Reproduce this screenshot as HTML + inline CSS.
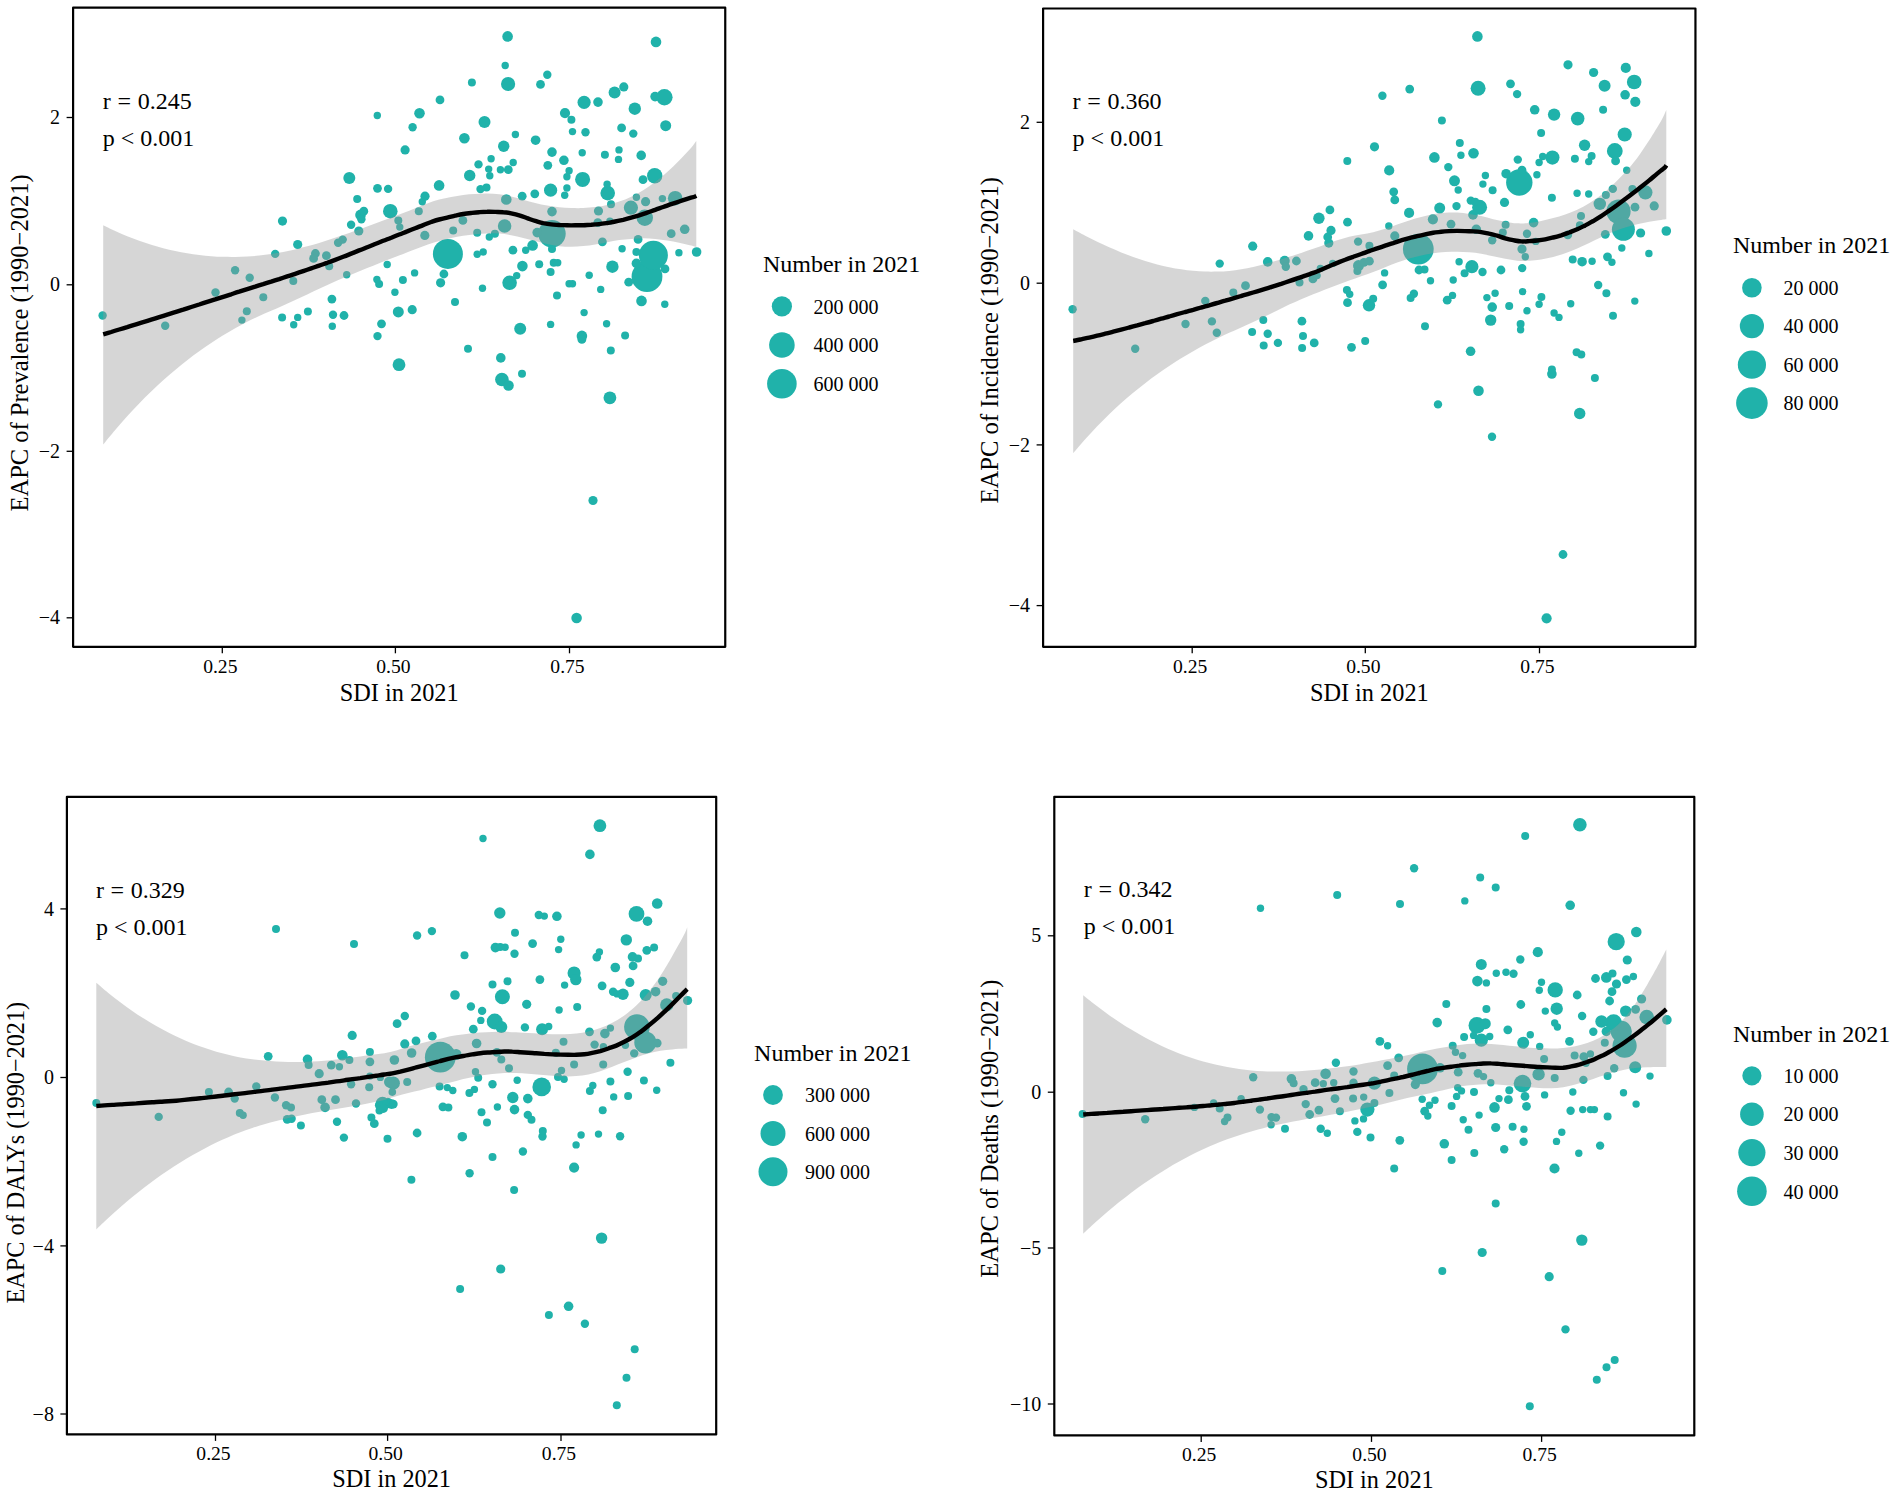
<!DOCTYPE html>
<html><head><meta charset="utf-8"><title>EAPC vs SDI</title>
<style>html,body{margin:0;padding:0;background:#fff}svg{display:block}text{font-family:'Liberation Serif',serif;fill:#000}</style>
</head><body>
<svg width="1901" height="1497" viewBox="0 0 1901 1497">
<rect width="1901" height="1497" fill="#fff"/>
<g fill="#20b2aa">
<circle cx="647.0" cy="276.7" r="15.4"/>
<circle cx="447.9" cy="253.9" r="15.0"/>
<circle cx="653.4" cy="255.3" r="14.5"/>
<circle cx="552.0" cy="233.7" r="13.7"/>
<circle cx="664.4" cy="97.2" r="8.2"/>
<circle cx="644.8" cy="217.8" r="8.2"/>
<circle cx="654.7" cy="175.7" r="7.7"/>
<circle cx="582.6" cy="179.4" r="7.5"/>
<circle cx="390.3" cy="211.2" r="7.3"/>
<circle cx="607.7" cy="193.1" r="7.3"/>
<circle cx="675.2" cy="198.2" r="7.3"/>
<circle cx="509.6" cy="282.8" r="7.3"/>
<circle cx="508.1" cy="84.0" r="7.1"/>
<circle cx="630.9" cy="207.7" r="7.1"/>
<circle cx="504.6" cy="226.0" r="6.8"/>
<circle cx="501.9" cy="379.5" r="6.8"/>
<circle cx="584.1" cy="102.3" r="6.6"/>
<circle cx="550.6" cy="190.2" r="6.6"/>
<circle cx="399.0" cy="364.7" r="6.4"/>
<circle cx="609.9" cy="397.8" r="6.4"/>
<circle cx="634.8" cy="108.7" r="6.2"/>
<circle cx="612.4" cy="266.7" r="6.2"/>
<circle cx="349.3" cy="178.1" r="6.0"/>
<circle cx="614.6" cy="92.6" r="6.0"/>
<circle cx="484.5" cy="121.9" r="6.0"/>
<circle cx="520.2" cy="328.8" r="6.0"/>
<circle cx="503.7" cy="146.2" r="5.7"/>
<circle cx="469.7" cy="175.5" r="5.7"/>
<circle cx="665.7" cy="125.7" r="5.5"/>
<circle cx="398.3" cy="311.9" r="5.5"/>
<circle cx="360.5" cy="214.9" r="5.3"/>
<circle cx="507.6" cy="36.4" r="5.3"/>
<circle cx="656.0" cy="41.9" r="5.3"/>
<circle cx="419.5" cy="113.3" r="5.3"/>
<circle cx="464.4" cy="138.2" r="5.3"/>
<circle cx="439.1" cy="185.4" r="5.3"/>
<circle cx="506.3" cy="199.5" r="5.3"/>
<circle cx="532.6" cy="245.4" r="5.3"/>
<circle cx="522.4" cy="266.1" r="5.3"/>
<circle cx="641.5" cy="300.9" r="5.3"/>
<circle cx="581.9" cy="335.9" r="5.3"/>
<circle cx="508.5" cy="385.5" r="5.3"/>
<circle cx="576.6" cy="618.0" r="5.3"/>
<circle cx="565.0" cy="113.1" r="5.1"/>
<circle cx="655.1" cy="96.6" r="4.8"/>
<circle cx="598.0" cy="102.1" r="4.8"/>
<circle cx="535.6" cy="140.2" r="4.8"/>
<circle cx="552.0" cy="152.1" r="4.8"/>
<circle cx="641.2" cy="155.4" r="4.8"/>
<circle cx="563.9" cy="160.3" r="4.8"/>
<circle cx="552.0" cy="211.6" r="4.8"/>
<circle cx="537.2" cy="232.6" r="4.8"/>
<circle cx="684.7" cy="229.3" r="4.8"/>
<circle cx="696.6" cy="252.0" r="4.8"/>
<circle cx="636.4" cy="263.4" r="4.8"/>
<circle cx="500.8" cy="357.9" r="4.8"/>
<circle cx="282.5" cy="221.1" r="4.6"/>
<circle cx="297.7" cy="244.5" r="4.6"/>
<circle cx="358.8" cy="231.0" r="4.6"/>
<circle cx="623.8" cy="86.9" r="4.6"/>
<circle cx="405.1" cy="149.9" r="4.6"/>
<circle cx="425.0" cy="196.2" r="4.6"/>
<circle cx="645.6" cy="201.7" r="4.6"/>
<circle cx="598.5" cy="211.0" r="4.6"/>
<circle cx="424.8" cy="235.4" r="4.6"/>
<circle cx="440.6" cy="282.8" r="4.6"/>
<circle cx="412.2" cy="309.7" r="4.6"/>
<circle cx="593.0" cy="500.5" r="4.6"/>
<circle cx="315.4" cy="253.5" r="4.4"/>
<circle cx="313.6" cy="258.4" r="4.4"/>
<circle cx="326.4" cy="255.7" r="4.4"/>
<circle cx="331.9" cy="299.1" r="4.4"/>
<circle cx="344.0" cy="315.5" r="4.4"/>
<circle cx="363.8" cy="211.2" r="4.4"/>
<circle cx="377.5" cy="188.3" r="4.4"/>
<circle cx="381.5" cy="323.8" r="4.4"/>
<circle cx="540.5" cy="84.4" r="4.4"/>
<circle cx="440.0" cy="99.9" r="4.4"/>
<circle cx="621.6" cy="127.9" r="4.4"/>
<circle cx="547.8" cy="165.3" r="4.4"/>
<circle cx="508.3" cy="169.7" r="4.4"/>
<circle cx="643.0" cy="179.7" r="4.4"/>
<circle cx="534.8" cy="193.8" r="4.4"/>
<circle cx="522.2" cy="196.2" r="4.4"/>
<circle cx="597.8" cy="222.6" r="4.4"/>
<circle cx="462.9" cy="220.4" r="4.4"/>
<circle cx="671.2" cy="233.7" r="4.4"/>
<circle cx="638.1" cy="239.4" r="4.4"/>
<circle cx="602.4" cy="241.8" r="4.4"/>
<circle cx="512.9" cy="250.2" r="4.4"/>
<circle cx="665.0" cy="268.9" r="4.4"/>
<circle cx="628.7" cy="282.2" r="4.4"/>
<circle cx="443.9" cy="274.0" r="4.4"/>
<circle cx="581.9" cy="339.4" r="4.4"/>
<circle cx="102.6" cy="315.5" r="4.2"/>
<circle cx="165.2" cy="325.8" r="4.2"/>
<circle cx="215.5" cy="292.5" r="4.2"/>
<circle cx="235.1" cy="270.3" r="4.2"/>
<circle cx="249.7" cy="277.8" r="4.2"/>
<circle cx="275.2" cy="253.9" r="4.2"/>
<circle cx="333.0" cy="314.8" r="4.2"/>
<circle cx="338.1" cy="242.7" r="4.2"/>
<circle cx="342.7" cy="239.6" r="4.2"/>
<circle cx="351.1" cy="224.8" r="4.2"/>
<circle cx="361.4" cy="219.3" r="4.2"/>
<circle cx="388.1" cy="188.9" r="4.2"/>
<circle cx="547.3" cy="74.7" r="4.2"/>
<circle cx="412.6" cy="127.2" r="4.2"/>
<circle cx="633.3" cy="133.6" r="4.2"/>
<circle cx="585.5" cy="132.3" r="4.2"/>
<circle cx="478.5" cy="164.4" r="4.2"/>
<circle cx="480.5" cy="189.1" r="4.2"/>
<circle cx="377.5" cy="336.1" r="4.2"/>
<circle cx="263.3" cy="297.2" r="4.0"/>
<circle cx="246.8" cy="311.3" r="4.0"/>
<circle cx="293.3" cy="281.1" r="4.0"/>
<circle cx="282.1" cy="317.4" r="4.0"/>
<circle cx="307.9" cy="311.5" r="4.0"/>
<circle cx="329.2" cy="266.3" r="4.0"/>
<circle cx="357.2" cy="199.1" r="4.0"/>
<circle cx="379.1" cy="284.1" r="4.0"/>
<circle cx="471.9" cy="82.4" r="4.0"/>
<circle cx="571.4" cy="119.7" r="4.0"/>
<circle cx="604.9" cy="154.7" r="4.0"/>
<circle cx="486.5" cy="187.6" r="4.0"/>
<circle cx="611.0" cy="204.3" r="4.0"/>
<circle cx="418.8" cy="211.2" r="4.0"/>
<circle cx="398.3" cy="220.4" r="4.0"/>
<circle cx="453.2" cy="230.4" r="4.0"/>
<circle cx="477.2" cy="232.8" r="4.0"/>
<circle cx="494.9" cy="233.7" r="4.0"/>
<circle cx="552.0" cy="249.1" r="4.0"/>
<circle cx="636.4" cy="252.0" r="4.0"/>
<circle cx="539.2" cy="264.3" r="4.0"/>
<circle cx="553.7" cy="262.8" r="4.0"/>
<circle cx="550.6" cy="272.0" r="4.0"/>
<circle cx="402.9" cy="280.0" r="4.0"/>
<circle cx="557.0" cy="295.4" r="4.0"/>
<circle cx="455.0" cy="302.0" r="4.0"/>
<circle cx="625.1" cy="335.4" r="4.0"/>
<circle cx="468.0" cy="348.7" r="4.0"/>
<circle cx="610.8" cy="350.4" r="4.0"/>
<circle cx="522.0" cy="373.8" r="4.0"/>
<circle cx="241.9" cy="320.1" r="3.7"/>
<circle cx="297.7" cy="317.4" r="3.7"/>
<circle cx="332.3" cy="326.3" r="3.7"/>
<circle cx="346.7" cy="274.7" r="3.7"/>
<circle cx="377.3" cy="115.5" r="3.7"/>
<circle cx="387.2" cy="264.5" r="3.7"/>
<circle cx="394.9" cy="292.3" r="3.7"/>
<circle cx="505.2" cy="65.5" r="3.7"/>
<circle cx="572.5" cy="131.6" r="3.7"/>
<circle cx="515.4" cy="134.5" r="3.7"/>
<circle cx="582.2" cy="152.8" r="3.7"/>
<circle cx="619.0" cy="149.9" r="3.7"/>
<circle cx="489.8" cy="175.7" r="3.7"/>
<circle cx="636.4" cy="197.3" r="3.7"/>
<circle cx="662.4" cy="198.6" r="3.7"/>
<circle cx="489.3" cy="237.0" r="3.7"/>
<circle cx="622.1" cy="248.7" r="3.7"/>
<circle cx="678.9" cy="252.8" r="3.7"/>
<circle cx="414.6" cy="272.9" r="3.7"/>
<circle cx="516.7" cy="275.6" r="3.7"/>
<circle cx="569.1" cy="283.7" r="3.7"/>
<circle cx="572.5" cy="283.7" r="3.7"/>
<circle cx="482.5" cy="288.3" r="3.7"/>
<circle cx="600.7" cy="289.4" r="3.7"/>
<circle cx="664.8" cy="304.2" r="3.7"/>
<circle cx="584.1" cy="312.6" r="3.7"/>
<circle cx="550.6" cy="324.4" r="3.7"/>
<circle cx="606.6" cy="323.7" r="3.7"/>
<circle cx="293.7" cy="324.7" r="3.7"/>
<circle cx="376.9" cy="279.5" r="3.7"/>
<circle cx="618.5" cy="159.4" r="3.7"/>
<circle cx="491.1" cy="158.7" r="3.7"/>
<circle cx="513.2" cy="162.5" r="3.7"/>
<circle cx="488.7" cy="169.1" r="3.7"/>
<circle cx="500.4" cy="169.7" r="3.7"/>
<circle cx="569.1" cy="170.8" r="3.7"/>
<circle cx="566.9" cy="176.8" r="3.7"/>
<circle cx="607.1" cy="184.3" r="3.7"/>
<circle cx="566.9" cy="188.0" r="3.7"/>
<circle cx="564.7" cy="195.3" r="3.7"/>
<circle cx="422.3" cy="201.7" r="3.7"/>
<circle cx="399.8" cy="227.1" r="3.7"/>
<circle cx="609.9" cy="221.1" r="3.7"/>
<circle cx="525.7" cy="250.2" r="3.7"/>
<circle cx="483.2" cy="252.0" r="3.7"/>
<circle cx="477.2" cy="254.2" r="3.7"/>
<circle cx="557.7" cy="262.8" r="3.7"/>
<circle cx="589.2" cy="275.3" r="3.7"/>
</g>
<path d="M103.2 225.2C105.2 226.2 111.2 229.2 115.2 231.0C119.2 232.8 123.2 234.6 127.2 236.2C131.2 237.8 135.2 239.3 139.2 240.8C143.2 242.2 147.2 243.5 151.2 244.8C155.2 246.0 159.2 247.1 163.2 248.2C167.2 249.2 171.2 250.2 175.2 251.0C179.2 251.9 183.2 252.6 187.2 253.3C191.2 254.0 195.2 254.6 199.2 255.0C203.2 255.5 207.2 255.9 211.2 256.2C215.2 256.5 219.2 256.7 223.2 256.8C227.2 256.9 231.2 257.0 235.2 256.9C239.2 256.9 243.2 256.7 247.2 256.5C251.2 256.3 255.2 256.0 259.2 255.6C263.2 255.2 267.2 254.7 271.2 254.1C275.2 253.4 279.2 252.7 283.2 252.0C287.2 251.2 291.2 250.3 295.2 249.4C299.2 248.4 303.2 247.3 307.2 246.3C311.2 245.2 315.2 244.1 319.2 242.9C323.2 241.7 327.2 240.4 331.2 239.0C335.2 237.7 339.2 236.4 343.2 235.0C347.2 233.6 351.2 232.2 355.2 230.7C359.2 229.3 363.2 227.8 367.2 226.4C371.2 224.9 375.2 223.4 379.2 222.0C383.2 220.5 387.2 219.0 391.2 217.6C395.2 216.1 399.2 214.6 403.2 213.0C407.2 211.5 411.2 209.8 415.2 208.2C419.2 206.6 423.2 204.9 427.2 203.4C431.2 202.0 435.2 200.6 439.2 199.5C443.2 198.4 447.2 197.7 451.2 196.9C455.2 196.1 459.2 195.4 463.2 194.9C467.2 194.4 471.2 194.2 475.2 194.0C479.2 193.8 483.2 193.5 487.2 193.6C491.2 193.6 495.2 193.9 499.2 194.3C503.2 194.8 507.2 195.5 511.2 196.4C515.2 197.3 519.2 198.6 523.2 199.7C527.2 200.8 531.2 201.9 535.2 202.9C539.2 203.9 543.2 204.8 547.2 205.5C551.2 206.3 555.2 206.8 559.2 207.3C563.2 207.7 567.2 208.0 571.2 208.1C575.2 208.2 579.2 208.3 583.2 208.1C587.2 207.9 591.2 207.6 595.2 207.1C599.2 206.5 603.2 205.9 607.2 205.0C611.2 204.1 615.2 203.0 619.2 201.6C623.2 200.3 627.2 198.6 631.2 196.7C635.2 194.8 639.2 192.6 643.2 190.2C647.2 187.8 651.2 185.1 655.2 182.1C659.2 179.1 663.2 175.7 667.2 172.0C671.2 168.4 675.2 164.4 679.2 160.4C683.2 156.3 688.3 150.9 691.2 147.7C694.0 144.5 695.4 142.2 696.3 141.1L696.3 247.1C695.4 246.9 694.0 246.3 691.2 245.6C688.3 244.9 683.2 243.6 679.2 242.8C675.2 241.9 671.2 241.2 667.2 240.6C663.2 239.9 659.2 239.3 655.2 239.0C651.2 238.6 647.2 238.3 643.2 238.3C639.2 238.3 635.2 238.7 631.2 239.0C627.2 239.3 623.2 239.6 619.2 240.1C615.2 240.7 611.2 241.5 607.2 242.2C603.2 243.0 599.2 243.9 595.2 244.5C591.2 245.2 587.2 245.7 583.2 246.1C579.2 246.5 575.2 246.8 571.2 246.8C567.2 246.8 563.2 246.6 559.2 246.2C555.2 245.8 551.2 245.0 547.2 244.1C543.2 243.3 539.2 242.1 535.2 241.1C531.2 240.0 527.2 238.8 523.2 237.9C519.2 236.9 515.2 236.0 511.2 235.2C507.2 234.5 503.2 233.9 499.2 233.6C495.2 233.3 491.2 233.3 487.2 233.4C483.2 233.4 479.2 233.8 475.2 234.2C471.2 234.6 467.2 235.1 463.2 235.7C459.2 236.3 455.2 237.0 451.2 237.9C447.2 238.8 443.2 240.0 439.2 241.1C435.2 242.3 431.2 243.4 427.2 244.8C423.2 246.1 419.2 247.7 415.2 249.2C411.2 250.7 407.2 252.3 403.2 253.9C399.2 255.4 395.2 257.0 391.2 258.6C387.2 260.1 383.2 261.7 379.2 263.3C375.2 264.9 371.2 266.5 367.2 268.1C363.2 269.7 359.2 271.3 355.2 273.0C351.2 274.6 347.2 276.4 343.2 278.1C339.2 279.8 335.2 281.6 331.2 283.3C327.2 285.1 323.2 287.0 319.2 288.8C315.2 290.7 311.2 292.5 307.2 294.4C303.2 296.3 299.2 298.1 295.2 300.0C291.2 301.9 287.2 303.8 283.2 305.6C279.2 307.4 275.2 309.1 271.2 310.8C267.2 312.5 263.2 314.2 259.2 316.0C255.2 317.9 251.2 319.7 247.2 321.8C243.2 323.8 239.2 326.0 235.2 328.2C231.2 330.5 227.2 332.8 223.2 335.3C219.2 337.8 215.2 340.3 211.2 343.0C207.2 345.6 203.2 348.4 199.2 351.3C195.2 354.1 191.2 357.1 187.2 360.2C183.2 363.3 179.2 366.6 175.2 369.9C171.2 373.3 167.2 376.7 163.2 380.3C159.2 383.9 155.2 387.6 151.2 391.5C147.2 395.3 143.2 399.3 139.2 403.4C135.2 407.6 131.2 411.8 127.2 416.2C123.2 420.6 119.2 425.2 115.2 429.9C111.2 434.6 105.2 442.0 103.2 444.4Z" fill="#999999" fill-opacity="0.4"/>
<path d="M103.2 334.4C104.5 334.0 108.5 332.8 111.2 332.0C113.9 331.1 116.5 330.3 119.2 329.5C121.9 328.7 124.5 327.9 127.2 327.1C129.9 326.2 132.5 325.4 135.2 324.6C137.9 323.8 140.5 322.9 143.2 322.1C145.9 321.3 148.5 320.5 151.2 319.6C153.9 318.8 156.5 318.0 159.2 317.1C161.9 316.3 164.5 315.5 167.2 314.6C169.9 313.8 172.5 312.9 175.2 312.1C177.9 311.3 180.5 310.4 183.2 309.6C185.9 308.7 188.5 307.9 191.2 307.0C193.9 306.2 196.5 305.3 199.2 304.5C201.9 303.6 204.5 302.8 207.2 301.9C209.9 301.1 212.5 300.2 215.2 299.4C217.9 298.5 220.5 297.7 223.2 296.8C225.9 296.0 228.5 295.1 231.2 294.3C233.9 293.4 236.5 292.5 239.2 291.7C241.9 290.8 244.5 290.0 247.2 289.1C249.9 288.3 252.5 287.4 255.2 286.6C257.9 285.7 260.5 284.9 263.2 284.1C265.9 283.2 268.5 282.4 271.2 281.6C273.9 280.7 276.5 279.9 279.2 279.1C281.9 278.2 284.5 277.3 287.2 276.4C289.9 275.6 292.5 274.7 295.2 273.8C297.9 272.9 300.5 272.0 303.2 271.1C305.9 270.2 308.5 269.3 311.2 268.4C313.9 267.5 316.5 266.5 319.2 265.6C321.9 264.7 324.5 263.7 327.2 262.8C329.9 261.8 332.5 260.9 335.2 259.9C337.9 258.9 340.5 257.9 343.2 256.8C345.9 255.8 348.5 254.7 351.2 253.6C353.9 252.6 356.5 251.5 359.2 250.4C361.9 249.4 364.5 248.3 367.2 247.2C369.9 246.2 372.5 245.1 375.2 244.0C377.9 243.0 380.5 241.9 383.2 240.8C385.9 239.8 388.5 238.7 391.2 237.7C393.9 236.6 396.5 235.5 399.2 234.5C401.9 233.5 404.5 232.4 407.2 231.4C409.9 230.3 412.5 229.3 415.2 228.2C417.9 227.2 420.5 226.1 423.2 225.1C425.9 224.1 428.5 222.9 431.2 222.0C433.9 221.1 436.5 220.2 439.2 219.5C441.9 218.8 444.5 218.2 447.2 217.6C449.9 217.0 452.5 216.3 455.2 215.7C457.9 215.1 460.5 214.5 463.2 214.0C465.9 213.6 468.5 213.3 471.2 213.0C473.9 212.7 476.5 212.4 479.2 212.2C481.9 212.0 484.5 211.8 487.2 211.8C489.9 211.7 492.5 211.8 495.2 211.9C497.9 212.0 500.5 211.9 503.2 212.2C505.9 212.4 508.5 212.8 511.2 213.3C513.9 213.9 516.5 214.5 519.2 215.3C521.9 216.1 524.5 217.2 527.2 218.2C529.9 219.1 532.5 220.1 535.2 220.9C537.9 221.7 540.5 222.6 543.2 223.2C545.9 223.7 548.5 224.1 551.2 224.4C553.9 224.7 556.5 224.8 559.2 225.0C561.9 225.1 564.5 225.2 567.2 225.3C569.9 225.4 572.5 225.4 575.2 225.3C577.9 225.3 580.5 225.3 583.2 225.2C585.9 225.1 588.5 224.9 591.2 224.8C593.9 224.6 596.5 224.4 599.2 224.1C601.9 223.8 604.5 223.4 607.2 223.0C609.9 222.5 612.5 222.1 615.2 221.5C617.9 221.0 620.5 220.4 623.2 219.8C625.9 219.1 628.5 218.4 631.2 217.6C633.9 216.9 636.5 216.2 639.2 215.3C641.9 214.5 644.5 213.5 647.2 212.6C649.9 211.7 652.5 210.7 655.2 209.8C657.9 208.9 660.5 207.9 663.2 207.0C665.9 206.1 668.5 205.1 671.2 204.2C673.9 203.3 676.5 202.4 679.2 201.5C681.9 200.6 684.5 199.7 687.2 198.8C689.9 198.0 693.7 197.0 695.2 196.5C696.7 196.0 696.1 195.9 696.3 195.8" fill="none" stroke="#000" stroke-width="4.4" stroke-linejoin="round"/>
<rect x="73.10" y="7.70" width="652.15" height="639.10" fill="none" stroke="#000" stroke-width="2.2" stroke-linejoin="round"/>
<line x1="222.3" y1="646.8" x2="222.3" y2="653.3" stroke="#000" stroke-width="1.3"/>
<text x="220.3" y="672.8" font-size="19.6" text-anchor="middle">0.25</text>
<line x1="395.4" y1="646.8" x2="395.4" y2="653.3" stroke="#000" stroke-width="1.3"/>
<text x="393.4" y="672.8" font-size="19.6" text-anchor="middle">0.50</text>
<line x1="569.5" y1="646.8" x2="569.5" y2="653.3" stroke="#000" stroke-width="1.3"/>
<text x="567.5" y="672.8" font-size="19.6" text-anchor="middle">0.75</text>
<line x1="66.6" y1="117.5" x2="73.1" y2="117.5" stroke="#000" stroke-width="1.3"/>
<text x="60.1" y="124.1" font-size="20" text-anchor="end">2</text>
<line x1="66.6" y1="284.8" x2="73.1" y2="284.8" stroke="#000" stroke-width="1.3"/>
<text x="60.1" y="291.4" font-size="20" text-anchor="end">0</text>
<line x1="66.6" y1="451.3" x2="73.1" y2="451.3" stroke="#000" stroke-width="1.3"/>
<text x="60.1" y="457.9" font-size="20" text-anchor="end">−2</text>
<line x1="66.6" y1="617.8" x2="73.1" y2="617.8" stroke="#000" stroke-width="1.3"/>
<text x="60.1" y="624.4" font-size="20" text-anchor="end">−4</text>
<text x="399.2" y="700.8" font-size="24.3" text-anchor="middle">SDI in 2021</text>
<text transform="translate(27.7 511.5) rotate(-90)" font-size="24.4" textLength="337.1" lengthAdjust="spacingAndGlyphs">EAPC of Prevalence (1990−2021)</text>
<text x="102.8" y="108.8" font-size="24" word-spacing="0.7">r = 0.245</text>
<text x="102.8" y="145.8" font-size="24">p &lt; 0.001</text>
<text x="762.9" y="272.3" font-size="24">Number in 2021</text>
<circle cx="781.9" cy="306.3" r="10.1" fill="#20b2aa"/>
<text x="813.4" y="313.5" font-size="20">200 000</text>
<circle cx="781.9" cy="345.0" r="12.8" fill="#20b2aa"/>
<text x="813.4" y="352.2" font-size="20">400 000</text>
<circle cx="781.9" cy="383.7" r="14.8" fill="#20b2aa"/>
<text x="813.4" y="390.9" font-size="20">600 000</text>
<g fill="#20b2aa">
<circle cx="1418.3" cy="249.1" r="15.4"/>
<circle cx="1519.3" cy="182.5" r="13.2"/>
<circle cx="1618.5" cy="211.6" r="12.1"/>
<circle cx="1623.4" cy="229.3" r="11.5"/>
<circle cx="1614.8" cy="151.0" r="7.9"/>
<circle cx="1478.1" cy="88.2" r="7.5"/>
<circle cx="1479.6" cy="207.2" r="7.5"/>
<circle cx="1634.2" cy="82.0" r="7.3"/>
<circle cx="1624.7" cy="134.5" r="7.1"/>
<circle cx="1552.4" cy="157.6" r="7.1"/>
<circle cx="1645.4" cy="192.4" r="7.1"/>
<circle cx="1577.7" cy="118.6" r="6.8"/>
<circle cx="1471.9" cy="266.7" r="6.6"/>
<circle cx="1554.1" cy="114.6" r="6.2"/>
<circle cx="1599.8" cy="203.9" r="6.2"/>
<circle cx="1369.0" cy="305.3" r="6.2"/>
<circle cx="1604.6" cy="85.8" r="6.0"/>
<circle cx="1318.9" cy="218.2" r="5.7"/>
<circle cx="1584.6" cy="145.3" r="5.7"/>
<circle cx="1490.7" cy="320.1" r="5.7"/>
<circle cx="1579.7" cy="413.5" r="5.7"/>
<circle cx="1358.5" cy="265.6" r="5.5"/>
<circle cx="1454.5" cy="180.8" r="5.5"/>
<circle cx="1439.7" cy="208.1" r="5.5"/>
<circle cx="1477.4" cy="36.4" r="5.3"/>
<circle cx="1473.5" cy="153.2" r="5.3"/>
<circle cx="1434.4" cy="157.4" r="5.3"/>
<circle cx="1478.5" cy="390.8" r="5.3"/>
<circle cx="1284.7" cy="260.8" r="5.1"/>
<circle cx="1625.8" cy="67.9" r="5.1"/>
<circle cx="1635.3" cy="101.8" r="5.1"/>
<circle cx="1389.2" cy="170.4" r="5.1"/>
<circle cx="1409.1" cy="212.9" r="5.1"/>
<circle cx="1432.9" cy="219.3" r="5.1"/>
<circle cx="1546.6" cy="618.3" r="5.1"/>
<circle cx="1267.7" cy="261.9" r="4.8"/>
<circle cx="1308.5" cy="235.9" r="4.8"/>
<circle cx="1625.1" cy="94.8" r="4.8"/>
<circle cx="1534.7" cy="109.8" r="4.8"/>
<circle cx="1506.1" cy="173.7" r="4.8"/>
<circle cx="1473.0" cy="214.9" r="4.8"/>
<circle cx="1533.6" cy="222.6" r="4.8"/>
<circle cx="1476.3" cy="229.3" r="4.8"/>
<circle cx="1666.3" cy="231.0" r="4.8"/>
<circle cx="1582.1" cy="261.7" r="4.8"/>
<circle cx="1492.2" cy="307.1" r="4.8"/>
<circle cx="1470.6" cy="351.3" r="4.8"/>
<circle cx="1551.9" cy="374.0" r="4.8"/>
<circle cx="1252.7" cy="246.2" r="4.6"/>
<circle cx="1331.0" cy="230.4" r="4.6"/>
<circle cx="1328.8" cy="243.1" r="4.6"/>
<circle cx="1568.0" cy="64.8" r="4.6"/>
<circle cx="1593.6" cy="72.5" r="4.6"/>
<circle cx="1374.5" cy="146.8" r="4.6"/>
<circle cx="1504.5" cy="202.4" r="4.6"/>
<circle cx="1654.2" cy="205.9" r="4.6"/>
<circle cx="1394.8" cy="235.9" r="4.6"/>
<circle cx="1640.6" cy="233.0" r="4.6"/>
<circle cx="1522.0" cy="249.1" r="4.6"/>
<circle cx="1245.5" cy="285.7" r="4.4"/>
<circle cx="1296.4" cy="261.0" r="4.4"/>
<circle cx="1301.9" cy="321.2" r="4.4"/>
<circle cx="1312.9" cy="278.9" r="4.4"/>
<circle cx="1329.9" cy="209.9" r="4.4"/>
<circle cx="1327.7" cy="237.0" r="4.4"/>
<circle cx="1347.5" cy="222.2" r="4.4"/>
<circle cx="1364.0" cy="262.3" r="4.4"/>
<circle cx="1347.5" cy="302.7" r="4.4"/>
<circle cx="1409.7" cy="89.1" r="4.4"/>
<circle cx="1510.5" cy="83.8" r="4.4"/>
<circle cx="1615.6" cy="160.9" r="4.4"/>
<circle cx="1522.0" cy="170.2" r="4.4"/>
<circle cx="1393.7" cy="191.8" r="4.4"/>
<circle cx="1394.8" cy="199.9" r="4.4"/>
<circle cx="1635.0" cy="207.2" r="4.4"/>
<circle cx="1451.0" cy="224.2" r="4.4"/>
<circle cx="1567.8" cy="234.8" r="4.4"/>
<circle cx="1605.3" cy="234.3" r="4.4"/>
<circle cx="1369.4" cy="261.2" r="4.4"/>
<circle cx="1607.5" cy="256.8" r="4.4"/>
<circle cx="1501.0" cy="270.0" r="4.4"/>
<circle cx="1419.0" cy="270.0" r="4.4"/>
<circle cx="1382.6" cy="284.8" r="4.4"/>
<circle cx="1447.2" cy="300.2" r="4.4"/>
<circle cx="1314.2" cy="342.9" r="4.4"/>
<circle cx="1351.5" cy="347.3" r="4.4"/>
<circle cx="1563.0" cy="554.5" r="4.4"/>
<circle cx="1072.6" cy="309.3" r="4.2"/>
<circle cx="1185.5" cy="324.0" r="4.2"/>
<circle cx="1205.3" cy="300.9" r="4.2"/>
<circle cx="1211.9" cy="321.4" r="4.2"/>
<circle cx="1219.7" cy="263.6" r="4.2"/>
<circle cx="1285.8" cy="266.7" r="4.2"/>
<circle cx="1358.1" cy="241.6" r="4.2"/>
<circle cx="1517.1" cy="94.1" r="4.2"/>
<circle cx="1382.4" cy="95.7" r="4.2"/>
<circle cx="1517.8" cy="159.6" r="4.2"/>
<circle cx="1448.3" cy="167.1" r="4.2"/>
<circle cx="1612.8" cy="188.9" r="4.2"/>
<circle cx="1470.8" cy="200.6" r="4.2"/>
<circle cx="1456.5" cy="206.1" r="4.2"/>
<circle cx="1527.0" cy="233.7" r="4.2"/>
<circle cx="1492.2" cy="240.3" r="4.2"/>
<circle cx="1482.5" cy="272.0" r="4.2"/>
<circle cx="1522.2" cy="268.1" r="4.2"/>
<circle cx="1598.2" cy="285.0" r="4.2"/>
<circle cx="1413.9" cy="293.8" r="4.2"/>
<circle cx="1216.8" cy="332.8" r="4.2"/>
<circle cx="1135.2" cy="348.7" r="4.2"/>
<circle cx="1267.7" cy="333.7" r="4.2"/>
<circle cx="1277.9" cy="342.9" r="4.2"/>
<circle cx="1438.0" cy="404.4" r="4.2"/>
<circle cx="1492.0" cy="436.8" r="4.2"/>
<circle cx="1233.3" cy="292.5" r="4.0"/>
<circle cx="1263.3" cy="320.1" r="4.0"/>
<circle cx="1299.5" cy="282.6" r="4.0"/>
<circle cx="1347.3" cy="160.9" r="4.0"/>
<circle cx="1357.4" cy="271.1" r="4.0"/>
<circle cx="1346.9" cy="289.9" r="4.0"/>
<circle cx="1603.1" cy="109.8" r="4.0"/>
<circle cx="1441.9" cy="120.4" r="4.0"/>
<circle cx="1541.1" cy="133.1" r="4.0"/>
<circle cx="1459.8" cy="143.1" r="4.0"/>
<circle cx="1574.9" cy="158.7" r="4.0"/>
<circle cx="1591.6" cy="155.9" r="4.0"/>
<circle cx="1492.6" cy="190.2" r="4.0"/>
<circle cx="1551.9" cy="197.7" r="4.0"/>
<circle cx="1632.4" cy="189.1" r="4.0"/>
<circle cx="1605.9" cy="195.1" r="4.0"/>
<circle cx="1475.2" cy="201.7" r="4.0"/>
<circle cx="1581.0" cy="216.0" r="4.0"/>
<circle cx="1505.6" cy="224.8" r="4.0"/>
<circle cx="1579.9" cy="225.3" r="4.0"/>
<circle cx="1502.8" cy="232.6" r="4.0"/>
<circle cx="1369.4" cy="245.8" r="4.0"/>
<circle cx="1572.7" cy="259.5" r="4.0"/>
<circle cx="1464.6" cy="273.3" r="4.0"/>
<circle cx="1424.5" cy="269.4" r="4.0"/>
<circle cx="1606.4" cy="293.2" r="4.0"/>
<circle cx="1410.6" cy="298.0" r="4.0"/>
<circle cx="1541.4" cy="296.9" r="4.0"/>
<circle cx="1373.2" cy="298.7" r="4.0"/>
<circle cx="1509.2" cy="306.0" r="4.0"/>
<circle cx="1613.0" cy="315.7" r="4.0"/>
<circle cx="1520.6" cy="324.0" r="4.0"/>
<circle cx="1425.0" cy="326.3" r="4.0"/>
<circle cx="1252.1" cy="331.9" r="4.0"/>
<circle cx="1263.7" cy="345.6" r="4.0"/>
<circle cx="1303.0" cy="335.9" r="4.0"/>
<circle cx="1302.1" cy="348.0" r="4.0"/>
<circle cx="1365.2" cy="340.9" r="4.0"/>
<circle cx="1576.6" cy="352.2" r="4.0"/>
<circle cx="1581.3" cy="354.6" r="4.0"/>
<circle cx="1551.9" cy="369.6" r="4.0"/>
<circle cx="1594.9" cy="378.0" r="4.0"/>
<circle cx="1317.1" cy="275.6" r="3.7"/>
<circle cx="1320.4" cy="268.5" r="3.7"/>
<circle cx="1332.7" cy="263.4" r="3.7"/>
<circle cx="1542.7" cy="156.5" r="3.7"/>
<circle cx="1626.7" cy="170.2" r="3.7"/>
<circle cx="1536.9" cy="174.8" r="3.7"/>
<circle cx="1485.4" cy="175.5" r="3.7"/>
<circle cx="1458.2" cy="190.0" r="3.7"/>
<circle cx="1577.1" cy="193.3" r="3.7"/>
<circle cx="1588.7" cy="194.0" r="3.7"/>
<circle cx="1388.8" cy="226.0" r="3.7"/>
<circle cx="1535.8" cy="241.4" r="3.7"/>
<circle cx="1525.3" cy="256.8" r="3.7"/>
<circle cx="1621.8" cy="248.0" r="3.7"/>
<circle cx="1648.9" cy="253.5" r="3.7"/>
<circle cx="1611.9" cy="262.3" r="3.7"/>
<circle cx="1459.1" cy="261.7" r="3.7"/>
<circle cx="1384.6" cy="272.9" r="3.7"/>
<circle cx="1430.5" cy="280.8" r="3.7"/>
<circle cx="1453.2" cy="280.0" r="3.7"/>
<circle cx="1486.9" cy="297.6" r="3.7"/>
<circle cx="1522.6" cy="291.6" r="3.7"/>
<circle cx="1452.5" cy="295.4" r="3.7"/>
<circle cx="1570.7" cy="303.8" r="3.7"/>
<circle cx="1634.8" cy="301.1" r="3.7"/>
<circle cx="1527.0" cy="310.8" r="3.7"/>
<circle cx="1520.6" cy="329.7" r="3.7"/>
<circle cx="1349.7" cy="294.3" r="3.7"/>
<circle cx="1460.9" cy="155.2" r="3.7"/>
<circle cx="1539.1" cy="162.5" r="3.7"/>
<circle cx="1588.7" cy="161.6" r="3.7"/>
<circle cx="1482.9" cy="184.1" r="3.7"/>
<circle cx="1592.1" cy="261.2" r="3.7"/>
<circle cx="1495.1" cy="293.2" r="3.7"/>
<circle cx="1539.1" cy="304.2" r="3.7"/>
<circle cx="1554.1" cy="313.0" r="3.7"/>
<circle cx="1559.0" cy="317.4" r="3.7"/>
</g>
<path d="M1073.2 229.3C1075.2 230.4 1081.2 233.6 1085.2 235.7C1089.2 237.8 1093.2 239.8 1097.2 241.7C1101.2 243.6 1105.2 245.5 1109.2 247.3C1113.2 249.0 1117.2 250.7 1121.2 252.4C1125.2 254.0 1129.2 255.5 1133.2 256.9C1137.2 258.3 1141.2 259.7 1145.2 260.9C1149.2 262.2 1153.2 263.3 1157.2 264.4C1161.2 265.4 1165.2 266.3 1169.2 267.2C1173.2 268.0 1177.2 268.7 1181.2 269.3C1185.2 270.0 1189.2 270.5 1193.2 270.8C1197.2 271.2 1201.2 271.5 1205.2 271.6C1209.2 271.7 1213.2 271.7 1217.2 271.6C1221.2 271.5 1225.2 271.2 1229.2 270.9C1233.2 270.5 1237.2 269.9 1241.2 269.3C1245.2 268.6 1249.2 267.7 1253.2 266.9C1257.2 266.0 1261.2 265.1 1265.2 264.0C1269.2 262.9 1273.2 261.7 1277.2 260.5C1281.2 259.3 1285.2 258.1 1289.2 256.8C1293.2 255.5 1297.2 254.2 1301.2 252.9C1305.2 251.5 1309.2 250.2 1313.2 248.8C1317.2 247.5 1321.2 246.0 1325.2 244.6C1329.2 243.1 1333.2 241.5 1337.2 240.3C1341.2 239.0 1345.2 237.8 1349.2 236.8C1353.2 235.9 1357.2 235.3 1361.2 234.6C1365.2 233.8 1369.2 233.3 1373.2 232.3C1377.2 231.3 1381.2 230.1 1385.2 228.8C1389.2 227.5 1393.2 225.9 1397.2 224.5C1401.2 223.1 1405.2 221.7 1409.2 220.5C1413.2 219.2 1417.2 218.1 1421.2 217.1C1425.2 216.0 1429.2 214.9 1433.2 214.2C1437.2 213.4 1441.2 213.0 1445.2 212.7C1449.2 212.4 1453.2 212.4 1457.2 212.6C1461.2 212.8 1465.2 213.3 1469.2 213.9C1473.2 214.4 1477.2 215.1 1481.2 215.9C1485.2 216.8 1489.2 218.2 1493.2 219.2C1497.2 220.1 1501.2 221.0 1505.2 221.7C1509.2 222.4 1513.2 223.2 1517.2 223.3C1521.2 223.5 1525.2 223.3 1529.2 222.9C1533.2 222.5 1537.2 221.7 1541.2 220.9C1545.2 220.1 1549.2 219.2 1553.2 218.1C1557.2 217.1 1561.2 215.9 1565.2 214.5C1569.2 213.1 1573.2 211.6 1577.2 209.7C1581.2 207.8 1585.2 205.7 1589.2 203.3C1593.2 200.9 1597.2 198.2 1601.2 195.1C1605.2 191.9 1609.2 188.3 1613.2 184.5C1617.2 180.7 1621.2 176.7 1625.2 172.3C1629.2 167.8 1633.2 163.2 1637.2 157.9C1641.2 152.5 1645.2 146.5 1649.2 140.3C1653.2 134.1 1658.3 125.7 1661.2 120.7C1664.0 115.6 1665.4 111.7 1666.3 109.9L1666.3 219.3C1665.4 219.4 1664.0 219.5 1661.2 219.9C1658.3 220.3 1653.2 220.9 1649.2 221.7C1645.2 222.4 1641.2 223.2 1637.2 224.2C1633.2 225.1 1629.2 226.2 1625.2 227.5C1621.2 228.8 1617.2 230.2 1613.2 231.8C1609.2 233.4 1605.2 235.3 1601.2 237.2C1597.2 239.0 1593.2 241.1 1589.2 243.0C1585.2 244.9 1581.2 246.8 1577.2 248.5C1573.2 250.2 1569.2 251.9 1565.2 253.3C1561.2 254.7 1557.2 255.8 1553.2 256.9C1549.2 257.9 1545.2 258.7 1541.2 259.4C1537.2 260.0 1533.2 260.6 1529.2 260.8C1525.2 261.0 1521.2 261.0 1517.2 260.7C1513.2 260.4 1509.2 259.5 1505.2 258.8C1501.2 258.1 1497.2 257.2 1493.2 256.3C1489.2 255.5 1485.2 254.3 1481.2 253.7C1477.2 253.0 1473.2 252.6 1469.2 252.3C1465.2 252.0 1461.2 251.8 1457.2 251.7C1453.2 251.7 1449.2 251.7 1445.2 252.0C1441.2 252.2 1437.2 252.6 1433.2 253.2C1429.2 253.8 1425.2 254.7 1421.2 255.6C1417.2 256.5 1413.2 257.4 1409.2 258.5C1405.2 259.7 1401.2 261.1 1397.2 262.6C1393.2 264.1 1389.2 265.8 1385.2 267.3C1381.2 268.9 1377.2 270.5 1373.2 271.9C1369.2 273.4 1365.2 274.9 1361.2 276.3C1357.2 277.7 1353.2 279.2 1349.2 280.6C1345.2 282.1 1341.2 283.5 1337.2 285.0C1333.2 286.5 1329.2 288.0 1325.2 289.5C1321.2 291.1 1317.2 292.7 1313.2 294.3C1309.2 295.9 1305.2 297.5 1301.2 299.2C1297.2 300.9 1293.2 302.8 1289.2 304.6C1285.2 306.5 1281.2 308.5 1277.2 310.4C1273.2 312.4 1269.2 314.3 1265.2 316.2C1261.2 318.2 1257.2 320.1 1253.2 322.0C1249.2 323.9 1245.2 325.7 1241.2 327.5C1237.2 329.3 1233.2 331.0 1229.2 332.8C1225.2 334.7 1221.2 336.5 1217.2 338.5C1213.2 340.4 1209.2 342.5 1205.2 344.6C1201.2 346.7 1197.2 348.9 1193.2 351.2C1189.2 353.5 1185.2 355.9 1181.2 358.3C1177.2 360.8 1173.2 363.3 1169.2 366.0C1165.2 368.7 1161.2 371.4 1157.2 374.3C1153.2 377.1 1149.2 380.1 1145.2 383.2C1141.2 386.3 1137.2 389.5 1133.2 392.8C1129.2 396.1 1125.2 399.6 1121.2 403.1C1117.2 406.7 1113.2 410.5 1109.2 414.3C1105.2 418.2 1101.2 422.2 1097.2 426.3C1093.2 430.5 1089.2 434.8 1085.2 439.3C1081.2 443.8 1075.2 450.9 1073.2 453.2Z" fill="#999999" fill-opacity="0.4"/>
<path d="M1073.2 341.0C1074.5 340.8 1078.5 339.9 1081.2 339.3C1083.9 338.7 1086.5 338.2 1089.2 337.6C1091.9 337.0 1094.5 336.4 1097.2 335.7C1099.9 335.1 1102.5 334.4 1105.2 333.7C1107.9 333.1 1110.5 332.4 1113.2 331.7C1115.9 331.0 1118.5 330.4 1121.2 329.7C1123.9 329.0 1126.5 328.3 1129.2 327.5C1131.9 326.8 1134.5 326.1 1137.2 325.4C1139.9 324.6 1142.5 323.9 1145.2 323.2C1147.9 322.4 1150.5 321.7 1153.2 321.0C1155.9 320.2 1158.5 319.5 1161.2 318.7C1163.9 318.0 1166.5 317.2 1169.2 316.5C1171.9 315.7 1174.5 315.0 1177.2 314.2C1179.9 313.5 1182.5 312.8 1185.2 312.0C1187.9 311.3 1190.5 310.5 1193.2 309.8C1195.9 309.0 1198.5 308.3 1201.2 307.5C1203.9 306.8 1206.5 306.0 1209.2 305.3C1211.9 304.5 1214.5 303.7 1217.2 303.0C1219.9 302.2 1222.5 301.4 1225.2 300.7C1227.9 299.9 1230.5 299.2 1233.2 298.4C1235.9 297.6 1238.5 296.8 1241.2 296.0C1243.9 295.3 1246.5 294.5 1249.2 293.7C1251.9 292.9 1254.5 292.1 1257.2 291.3C1259.9 290.5 1262.5 289.7 1265.2 288.9C1267.9 288.1 1270.5 287.2 1273.2 286.3C1275.9 285.5 1278.5 284.6 1281.2 283.8C1283.9 282.9 1286.5 282.1 1289.2 281.2C1291.9 280.3 1294.5 279.4 1297.2 278.4C1299.9 277.5 1302.5 276.6 1305.2 275.7C1307.9 274.7 1310.5 273.9 1313.2 272.9C1315.9 271.9 1318.5 270.8 1321.2 269.7C1323.9 268.7 1326.5 267.5 1329.2 266.3C1331.9 265.2 1334.5 264.0 1337.2 262.9C1339.9 261.8 1342.5 260.7 1345.2 259.7C1347.9 258.6 1350.5 257.7 1353.2 256.8C1355.9 255.8 1358.5 254.9 1361.2 254.0C1363.9 253.1 1366.5 252.1 1369.2 251.2C1371.9 250.3 1374.5 249.3 1377.2 248.4C1379.9 247.5 1382.5 246.6 1385.2 245.7C1387.9 244.8 1390.5 243.9 1393.2 243.1C1395.9 242.2 1398.5 241.2 1401.2 240.4C1403.9 239.6 1406.5 238.8 1409.2 238.1C1411.9 237.4 1414.5 236.9 1417.2 236.2C1419.9 235.6 1422.5 235.0 1425.2 234.4C1427.9 233.8 1430.5 233.1 1433.2 232.7C1435.9 232.3 1438.5 232.1 1441.2 231.8C1443.9 231.5 1446.5 231.3 1449.2 231.1C1451.9 230.9 1454.5 230.9 1457.2 230.9C1459.9 230.9 1462.5 231.0 1465.2 231.1C1467.9 231.2 1470.5 231.3 1473.2 231.4C1475.9 231.6 1478.5 231.8 1481.2 232.1C1483.9 232.5 1486.5 233.0 1489.2 233.6C1491.9 234.1 1494.5 234.9 1497.2 235.7C1499.9 236.5 1502.5 237.6 1505.2 238.3C1507.9 239.1 1510.5 239.7 1513.2 240.2C1515.9 240.7 1518.5 241.3 1521.2 241.4C1523.9 241.6 1526.5 241.3 1529.2 241.1C1531.9 241.0 1534.5 240.8 1537.2 240.5C1539.9 240.2 1542.5 239.9 1545.2 239.4C1547.9 238.9 1550.5 238.2 1553.2 237.5C1555.9 236.9 1558.5 236.2 1561.2 235.4C1563.9 234.5 1566.5 233.5 1569.2 232.5C1571.9 231.4 1574.5 230.4 1577.2 229.2C1579.9 228.0 1582.5 226.7 1585.2 225.4C1587.9 224.0 1590.5 222.5 1593.2 221.0C1595.9 219.4 1598.5 217.9 1601.2 216.1C1603.9 214.4 1606.5 212.5 1609.2 210.6C1611.9 208.8 1614.5 206.9 1617.2 205.0C1619.9 203.0 1622.5 201.0 1625.2 199.0C1627.9 197.1 1630.5 195.1 1633.2 193.0C1635.9 191.0 1638.5 188.9 1641.2 186.8C1643.9 184.7 1646.5 182.6 1649.2 180.4C1651.9 178.2 1654.5 175.8 1657.2 173.6C1659.9 171.4 1663.7 168.5 1665.2 167.1C1666.7 165.7 1666.1 165.6 1666.3 165.3" fill="none" stroke="#000" stroke-width="4.4" stroke-linejoin="round"/>
<rect x="1043.10" y="8.50" width="652.35" height="638.30" fill="none" stroke="#000" stroke-width="2.2" stroke-linejoin="round"/>
<line x1="1192.2" y1="646.8" x2="1192.2" y2="653.3" stroke="#000" stroke-width="1.3"/>
<text x="1190.2" y="672.8" font-size="19.6" text-anchor="middle">0.25</text>
<line x1="1365.3" y1="646.8" x2="1365.3" y2="653.3" stroke="#000" stroke-width="1.3"/>
<text x="1363.3" y="672.8" font-size="19.6" text-anchor="middle">0.50</text>
<line x1="1539.5" y1="646.8" x2="1539.5" y2="653.3" stroke="#000" stroke-width="1.3"/>
<text x="1537.5" y="672.8" font-size="19.6" text-anchor="middle">0.75</text>
<line x1="1036.6" y1="122.3" x2="1043.1" y2="122.3" stroke="#000" stroke-width="1.3"/>
<text x="1030.1" y="128.9" font-size="20" text-anchor="end">2</text>
<line x1="1036.6" y1="283.2" x2="1043.1" y2="283.2" stroke="#000" stroke-width="1.3"/>
<text x="1030.1" y="289.8" font-size="20" text-anchor="end">0</text>
<line x1="1036.6" y1="444.9" x2="1043.1" y2="444.9" stroke="#000" stroke-width="1.3"/>
<text x="1030.1" y="451.5" font-size="20" text-anchor="end">−2</text>
<line x1="1036.6" y1="605.6" x2="1043.1" y2="605.6" stroke="#000" stroke-width="1.3"/>
<text x="1030.1" y="612.2" font-size="20" text-anchor="end">−4</text>
<text x="1369.3" y="700.8" font-size="24.3" text-anchor="middle">SDI in 2021</text>
<text transform="translate(997.5 503.5) rotate(-90)" font-size="24.4" textLength="326.4" lengthAdjust="spacingAndGlyphs">EAPC of Incidence (1990−2021)</text>
<text x="1072.6" y="108.7" font-size="24" word-spacing="0.7">r = 0.360</text>
<text x="1072.6" y="145.9" font-size="24">p &lt; 0.001</text>
<text x="1733.0" y="253.2" font-size="24">Number in 2021</text>
<circle cx="1751.9" cy="287.7" r="9.8" fill="#20b2aa"/>
<text x="1783.5" y="294.9" font-size="20">20 000</text>
<circle cx="1751.9" cy="326.1" r="12.1" fill="#20b2aa"/>
<text x="1783.5" y="333.3" font-size="20">40 000</text>
<circle cx="1751.9" cy="364.7" r="14.1" fill="#20b2aa"/>
<text x="1783.5" y="371.9" font-size="20">60 000</text>
<circle cx="1751.9" cy="403.1" r="15.8" fill="#20b2aa"/>
<text x="1783.5" y="410.3" font-size="20">80 000</text>
<g fill="#20b2aa">
<circle cx="440.3" cy="1057.2" r="15.4"/>
<circle cx="636.9" cy="1027.0" r="12.8"/>
<circle cx="645.3" cy="1042.4" r="11.0"/>
<circle cx="541.7" cy="1086.9" r="9.3"/>
<circle cx="636.5" cy="913.9" r="7.9"/>
<circle cx="494.7" cy="1021.5" r="7.9"/>
<circle cx="502.4" cy="996.8" r="7.5"/>
<circle cx="382.5" cy="1103.5" r="6.8"/>
<circle cx="574.1" cy="973.0" r="6.6"/>
<circle cx="666.7" cy="1004.9" r="6.6"/>
<circle cx="393.3" cy="1083.2" r="6.6"/>
<circle cx="599.9" cy="825.7" r="6.4"/>
<circle cx="645.7" cy="995.0" r="6.0"/>
<circle cx="501.3" cy="1027.0" r="6.0"/>
<circle cx="542.1" cy="1029.2" r="6.0"/>
<circle cx="499.8" cy="913.0" r="5.7"/>
<circle cx="626.3" cy="939.9" r="5.7"/>
<circle cx="575.8" cy="979.6" r="5.7"/>
<circle cx="623.0" cy="994.3" r="5.7"/>
<circle cx="512.8" cy="1097.5" r="5.7"/>
<circle cx="601.6" cy="1238.1" r="5.7"/>
<circle cx="456.1" cy="1054.5" r="5.5"/>
<circle cx="389.5" cy="1082.0" r="5.5"/>
<circle cx="342.3" cy="1055.2" r="5.3"/>
<circle cx="657.2" cy="903.5" r="5.3"/>
<circle cx="380.2" cy="1105.2" r="5.3"/>
<circle cx="387.9" cy="1103.0" r="5.3"/>
<circle cx="574.1" cy="1167.6" r="5.1"/>
<circle cx="307.5" cy="1059.4" r="4.8"/>
<circle cx="325.1" cy="1107.4" r="4.8"/>
<circle cx="589.9" cy="854.4" r="4.8"/>
<circle cx="647.5" cy="921.2" r="4.8"/>
<circle cx="556.9" cy="916.3" r="4.8"/>
<circle cx="495.4" cy="947.6" r="4.8"/>
<circle cx="632.5" cy="956.9" r="4.8"/>
<circle cx="615.3" cy="967.5" r="4.8"/>
<circle cx="455.0" cy="995.0" r="4.8"/>
<circle cx="655.6" cy="991.7" r="4.8"/>
<circle cx="604.9" cy="1033.6" r="4.8"/>
<circle cx="476.6" cy="1043.5" r="4.8"/>
<circle cx="411.6" cy="1053.0" r="4.8"/>
<circle cx="394.4" cy="1060.0" r="4.8"/>
<circle cx="527.8" cy="1098.6" r="4.8"/>
<circle cx="514.5" cy="1109.6" r="4.8"/>
<circle cx="462.3" cy="1136.7" r="4.8"/>
<circle cx="568.6" cy="1306.3" r="4.8"/>
<circle cx="391.4" cy="1104.1" r="4.8"/>
<circle cx="352.2" cy="1035.4" r="4.6"/>
<circle cx="319.2" cy="1073.7" r="4.6"/>
<circle cx="629.8" cy="982.4" r="4.6"/>
<circle cx="662.7" cy="981.3" r="4.6"/>
<circle cx="687.6" cy="1000.5" r="4.6"/>
<circle cx="526.7" cy="1004.3" r="4.6"/>
<circle cx="404.8" cy="1043.9" r="4.6"/>
<circle cx="500.7" cy="1269.0" r="4.6"/>
<circle cx="268.2" cy="1056.3" r="4.4"/>
<circle cx="369.9" cy="1061.8" r="4.4"/>
<circle cx="331.3" cy="1065.1" r="4.4"/>
<circle cx="228.6" cy="1092.0" r="4.4"/>
<circle cx="321.8" cy="1099.7" r="4.4"/>
<circle cx="335.5" cy="1099.7" r="4.4"/>
<circle cx="287.2" cy="1119.3" r="4.4"/>
<circle cx="374.3" cy="1123.7" r="4.4"/>
<circle cx="532.6" cy="943.6" r="4.4"/>
<circle cx="646.8" cy="950.3" r="4.4"/>
<circle cx="596.8" cy="957.1" r="4.4"/>
<circle cx="633.1" cy="965.9" r="4.4"/>
<circle cx="539.9" cy="979.6" r="4.4"/>
<circle cx="602.1" cy="985.8" r="4.4"/>
<circle cx="397.1" cy="1023.7" r="4.4"/>
<circle cx="473.3" cy="1029.2" r="4.4"/>
<circle cx="589.5" cy="1031.8" r="4.4"/>
<circle cx="657.2" cy="1043.1" r="4.4"/>
<circle cx="432.3" cy="1036.2" r="4.4"/>
<circle cx="416.0" cy="1040.9" r="4.4"/>
<circle cx="496.9" cy="1052.3" r="4.4"/>
<circle cx="393.3" cy="1104.1" r="4.4"/>
<circle cx="442.9" cy="1106.8" r="4.4"/>
<circle cx="383.5" cy="1108.5" r="4.4"/>
<circle cx="417.1" cy="1133.0" r="4.4"/>
<circle cx="256.3" cy="1086.5" r="4.2"/>
<circle cx="234.7" cy="1098.6" r="4.2"/>
<circle cx="274.9" cy="1097.5" r="4.2"/>
<circle cx="351.1" cy="1084.3" r="4.2"/>
<circle cx="356.0" cy="1103.5" r="4.2"/>
<circle cx="286.1" cy="1105.2" r="4.2"/>
<circle cx="158.7" cy="1116.9" r="4.2"/>
<circle cx="291.6" cy="1118.7" r="4.2"/>
<circle cx="337.0" cy="1121.8" r="4.2"/>
<circle cx="343.9" cy="1137.6" r="4.2"/>
<circle cx="538.8" cy="915.0" r="4.2"/>
<circle cx="431.9" cy="931.1" r="4.2"/>
<circle cx="417.1" cy="935.5" r="4.2"/>
<circle cx="514.5" cy="953.8" r="4.2"/>
<circle cx="613.1" cy="991.7" r="4.2"/>
<circle cx="470.9" cy="1006.5" r="4.2"/>
<circle cx="482.1" cy="1010.9" r="4.2"/>
<circle cx="404.8" cy="1016.0" r="4.2"/>
<circle cx="524.9" cy="1027.4" r="4.2"/>
<circle cx="594.6" cy="1044.6" r="4.2"/>
<circle cx="634.2" cy="1053.4" r="4.2"/>
<circle cx="627.6" cy="1071.7" r="4.2"/>
<circle cx="492.5" cy="1084.3" r="4.2"/>
<circle cx="527.8" cy="1114.9" r="4.2"/>
<circle cx="542.5" cy="1136.5" r="4.2"/>
<circle cx="620.1" cy="1136.3" r="4.2"/>
<circle cx="522.9" cy="1151.5" r="4.2"/>
<circle cx="469.6" cy="1173.3" r="4.2"/>
<circle cx="584.9" cy="1323.7" r="4.2"/>
<circle cx="276.0" cy="929.1" r="4.0"/>
<circle cx="354.0" cy="943.9" r="4.0"/>
<circle cx="308.6" cy="1065.1" r="4.0"/>
<circle cx="349.4" cy="1060.0" r="4.0"/>
<circle cx="369.9" cy="1051.9" r="4.0"/>
<circle cx="208.9" cy="1092.0" r="4.0"/>
<circle cx="369.2" cy="1087.2" r="4.0"/>
<circle cx="96.3" cy="1103.0" r="4.0"/>
<circle cx="291.0" cy="1107.4" r="4.0"/>
<circle cx="239.8" cy="1112.9" r="4.0"/>
<circle cx="371.4" cy="1117.4" r="4.0"/>
<circle cx="300.9" cy="1125.5" r="4.0"/>
<circle cx="387.5" cy="1138.7" r="4.0"/>
<circle cx="515.0" cy="932.8" r="4.0"/>
<circle cx="500.2" cy="947.0" r="4.0"/>
<circle cx="654.1" cy="947.6" r="4.0"/>
<circle cx="464.5" cy="955.3" r="4.0"/>
<circle cx="638.0" cy="958.6" r="4.0"/>
<circle cx="507.5" cy="981.3" r="4.0"/>
<circle cx="492.5" cy="984.6" r="4.0"/>
<circle cx="676.1" cy="996.1" r="4.0"/>
<circle cx="577.2" cy="1007.1" r="4.0"/>
<circle cx="563.5" cy="1041.7" r="4.0"/>
<circle cx="501.3" cy="1059.4" r="4.0"/>
<circle cx="555.8" cy="1052.8" r="4.0"/>
<circle cx="574.1" cy="1064.4" r="4.0"/>
<circle cx="603.2" cy="1064.4" r="4.0"/>
<circle cx="509.0" cy="1068.2" r="4.0"/>
<circle cx="670.4" cy="1062.7" r="4.0"/>
<circle cx="478.2" cy="1077.7" r="4.0"/>
<circle cx="558.0" cy="1077.0" r="4.0"/>
<circle cx="407.2" cy="1082.1" r="4.0"/>
<circle cx="610.4" cy="1081.4" r="4.0"/>
<circle cx="643.9" cy="1080.5" r="4.0"/>
<circle cx="589.9" cy="1090.9" r="4.0"/>
<circle cx="439.6" cy="1086.5" r="4.0"/>
<circle cx="469.4" cy="1093.1" r="4.0"/>
<circle cx="628.1" cy="1096.0" r="4.0"/>
<circle cx="448.4" cy="1107.4" r="4.0"/>
<circle cx="481.5" cy="1112.3" r="4.0"/>
<circle cx="602.7" cy="1110.3" r="4.0"/>
<circle cx="531.5" cy="1119.8" r="4.0"/>
<circle cx="487.0" cy="1122.6" r="4.0"/>
<circle cx="542.8" cy="1131.0" r="4.0"/>
<circle cx="492.5" cy="1157.0" r="4.0"/>
<circle cx="411.4" cy="1179.7" r="4.0"/>
<circle cx="514.1" cy="1190.1" r="4.0"/>
<circle cx="460.1" cy="1289.1" r="4.0"/>
<circle cx="548.9" cy="1314.9" r="4.0"/>
<circle cx="634.7" cy="1349.2" r="4.0"/>
<circle cx="626.5" cy="1377.7" r="4.0"/>
<circle cx="616.8" cy="1405.2" r="4.0"/>
<circle cx="379.4" cy="1110.6" r="3.9"/>
<circle cx="392.3" cy="1092.1" r="3.8"/>
<circle cx="243.1" cy="1115.2" r="3.7"/>
<circle cx="483.0" cy="838.5" r="3.7"/>
<circle cx="560.8" cy="939.2" r="3.7"/>
<circle cx="558.6" cy="949.6" r="3.7"/>
<circle cx="564.6" cy="985.1" r="3.7"/>
<circle cx="617.1" cy="993.9" r="3.7"/>
<circle cx="559.1" cy="1010.0" r="3.7"/>
<circle cx="480.8" cy="1020.4" r="3.7"/>
<circle cx="548.7" cy="1026.5" r="3.7"/>
<circle cx="610.4" cy="1028.1" r="3.7"/>
<circle cx="603.4" cy="1046.8" r="3.7"/>
<circle cx="625.4" cy="1045.3" r="3.7"/>
<circle cx="561.5" cy="1070.4" r="3.7"/>
<circle cx="475.5" cy="1071.7" r="3.7"/>
<circle cx="517.2" cy="1080.3" r="3.7"/>
<circle cx="452.8" cy="1090.5" r="3.7"/>
<circle cx="656.7" cy="1090.2" r="3.7"/>
<circle cx="613.7" cy="1096.9" r="3.7"/>
<circle cx="497.4" cy="1107.0" r="3.7"/>
<circle cx="598.5" cy="1134.1" r="3.7"/>
<circle cx="576.1" cy="1144.9" r="3.7"/>
<circle cx="339.4" cy="1066.7" r="3.7"/>
<circle cx="369.9" cy="1076.1" r="3.7"/>
<circle cx="544.3" cy="916.1" r="3.7"/>
<circle cx="505.1" cy="947.2" r="3.7"/>
<circle cx="599.4" cy="952.0" r="3.7"/>
<circle cx="564.1" cy="1079.2" r="3.7"/>
<circle cx="592.8" cy="1085.4" r="3.7"/>
<circle cx="447.3" cy="1087.6" r="3.7"/>
<circle cx="474.4" cy="1089.4" r="3.7"/>
<circle cx="581.1" cy="1135.0" r="3.7"/>
<circle cx="380.3" cy="1077.4" r="3.7"/>
</g>
<path d="M96.3 982.8C98.3 984.5 104.3 989.7 108.3 992.9C112.3 996.2 116.3 999.3 120.3 1002.3C124.3 1005.3 128.3 1008.2 132.3 1010.9C136.3 1013.7 140.3 1016.3 144.3 1018.8C148.3 1021.3 152.3 1023.7 156.3 1026.0C160.3 1028.3 164.3 1030.4 168.3 1032.5C172.3 1034.5 176.3 1036.5 180.3 1038.3C184.3 1040.1 188.3 1041.8 192.3 1043.4C196.3 1045.0 200.3 1046.5 204.3 1047.8C208.3 1049.2 212.3 1050.5 216.3 1051.7C220.3 1052.8 224.3 1053.9 228.3 1054.8C232.3 1055.8 236.3 1056.6 240.3 1057.4C244.3 1058.1 248.3 1058.7 252.3 1059.3C256.3 1059.8 260.3 1060.3 264.3 1060.6C268.3 1061.0 272.3 1061.2 276.3 1061.4C280.3 1061.6 284.3 1061.8 288.3 1061.9C292.3 1062.0 296.3 1061.9 300.3 1061.9C304.3 1061.8 308.3 1061.8 312.3 1061.6C316.3 1061.4 320.3 1061.0 324.3 1060.7C328.3 1060.3 332.3 1059.9 336.3 1059.4C340.3 1059.0 344.3 1058.5 348.3 1058.0C352.3 1057.5 356.3 1057.0 360.3 1056.4C364.3 1055.9 368.3 1055.4 372.3 1054.8C376.3 1054.3 380.3 1053.9 384.3 1053.2C388.3 1052.5 392.3 1051.7 396.3 1050.5C400.3 1049.4 404.3 1047.7 408.3 1046.5C412.3 1045.4 416.3 1044.5 420.3 1043.5C424.3 1042.6 428.3 1041.6 432.3 1040.6C436.3 1039.6 440.3 1038.6 444.3 1037.7C448.3 1036.8 452.3 1035.9 456.3 1035.3C460.3 1034.6 464.3 1034.2 468.3 1033.7C472.3 1033.2 476.3 1032.8 480.3 1032.5C484.3 1032.2 488.3 1032.1 492.3 1032.0C496.3 1031.9 500.3 1031.8 504.3 1031.8C508.3 1031.9 512.3 1032.0 516.3 1032.2C520.3 1032.4 524.3 1032.8 528.3 1033.0C532.3 1033.2 536.3 1033.5 540.3 1033.7C544.3 1033.9 548.3 1034.0 552.3 1034.2C556.3 1034.3 560.3 1034.4 564.3 1034.3C568.3 1034.2 572.3 1034.0 576.3 1033.5C580.3 1033.0 584.3 1032.4 588.3 1031.5C592.3 1030.6 596.3 1029.5 600.3 1028.1C604.3 1026.6 608.3 1024.9 612.3 1022.8C616.3 1020.7 620.3 1018.3 624.3 1015.4C628.3 1012.6 632.3 1009.4 636.3 1005.5C640.3 1001.7 644.3 997.4 648.3 992.5C652.3 987.6 656.3 982.1 660.3 976.1C664.3 970.0 668.3 963.0 672.3 956.1C676.3 949.1 681.9 939.1 684.3 934.3C686.8 929.6 686.7 928.5 687.2 927.3L687.2 1048.4C686.7 1048.5 686.8 1048.5 684.3 1048.6C681.9 1048.8 676.3 1049.0 672.3 1049.4C668.3 1049.7 664.3 1050.1 660.3 1050.8C656.3 1051.5 652.3 1052.4 648.3 1053.5C644.3 1054.6 640.3 1055.9 636.3 1057.4C632.3 1058.8 628.3 1060.4 624.3 1062.0C620.3 1063.5 616.3 1065.2 612.3 1066.8C608.3 1068.3 604.3 1069.9 600.3 1071.2C596.3 1072.5 592.3 1073.6 588.3 1074.4C584.3 1075.2 580.3 1075.8 576.3 1076.1C572.3 1076.5 568.3 1076.5 564.3 1076.4C560.3 1076.3 556.3 1076.0 552.3 1075.7C548.3 1075.4 544.3 1075.0 540.3 1074.7C536.3 1074.3 532.3 1074.0 528.3 1073.8C524.3 1073.5 520.3 1073.1 516.3 1073.0C512.3 1072.9 508.3 1072.8 504.3 1073.0C500.3 1073.1 496.3 1073.6 492.3 1074.0C488.3 1074.5 484.3 1074.9 480.3 1075.5C476.3 1076.2 472.3 1077.2 468.3 1078.1C464.3 1078.9 460.3 1079.9 456.3 1080.9C452.3 1081.9 448.3 1082.9 444.3 1083.9C440.3 1085.0 436.3 1086.1 432.3 1087.1C428.3 1088.2 424.3 1089.2 420.3 1090.2C416.3 1091.1 412.3 1092.0 408.3 1093.0C404.3 1094.0 400.3 1095.1 396.3 1096.3C392.3 1097.4 388.3 1098.9 384.3 1100.0C380.3 1101.0 376.3 1101.8 372.3 1102.6C368.3 1103.4 364.3 1104.2 360.3 1104.9C356.3 1105.7 352.3 1106.3 348.3 1107.0C344.3 1107.7 340.3 1108.4 336.3 1109.0C332.3 1109.7 328.3 1110.3 324.3 1110.9C320.3 1111.6 316.3 1112.3 312.3 1113.0C308.3 1113.7 304.3 1114.6 300.3 1115.4C296.3 1116.2 292.3 1117.1 288.3 1118.0C284.3 1118.9 280.3 1119.9 276.3 1120.9C272.3 1122.0 268.3 1123.0 264.3 1124.2C260.3 1125.4 256.3 1126.6 252.3 1128.0C248.3 1129.3 244.3 1130.7 240.3 1132.3C236.3 1133.8 232.3 1135.4 228.3 1137.2C224.3 1138.9 220.3 1140.7 216.3 1142.6C212.3 1144.5 208.3 1146.6 204.3 1148.7C200.3 1150.8 196.3 1153.0 192.3 1155.3C188.3 1157.5 184.3 1159.9 180.3 1162.4C176.3 1164.9 172.3 1167.5 168.3 1170.2C164.3 1172.9 160.3 1175.7 156.3 1178.5C152.3 1181.4 148.3 1184.4 144.3 1187.5C140.3 1190.6 136.3 1193.8 132.3 1197.1C128.3 1200.3 124.3 1203.7 120.3 1207.2C116.3 1210.7 112.3 1214.3 108.3 1218.0C104.3 1221.7 98.3 1227.5 96.3 1229.4Z" fill="#999999" fill-opacity="0.4"/>
<path d="M96.3 1106.0C97.7 1105.9 101.7 1105.6 104.3 1105.4C107.0 1105.3 109.7 1105.1 112.3 1104.9C115.0 1104.7 117.7 1104.6 120.3 1104.4C123.0 1104.2 125.7 1104.1 128.3 1103.9C131.0 1103.7 133.7 1103.5 136.3 1103.4C139.0 1103.2 141.7 1103.0 144.3 1102.8C147.0 1102.7 149.7 1102.5 152.3 1102.3C155.0 1102.1 157.7 1102.0 160.3 1101.8C163.0 1101.6 165.7 1101.5 168.3 1101.3C171.0 1101.1 173.7 1100.9 176.3 1100.7C179.0 1100.5 181.7 1100.2 184.3 1099.9C187.0 1099.6 189.7 1099.3 192.3 1099.0C195.0 1098.8 197.7 1098.5 200.3 1098.2C203.0 1097.9 205.7 1097.7 208.3 1097.4C211.0 1097.1 213.7 1096.8 216.3 1096.5C219.0 1096.2 221.7 1095.8 224.3 1095.5C227.0 1095.2 229.7 1094.9 232.3 1094.5C235.0 1094.2 237.7 1093.9 240.3 1093.6C243.0 1093.3 245.7 1093.0 248.3 1092.6C251.0 1092.3 253.7 1092.0 256.3 1091.6C259.0 1091.3 261.7 1091.0 264.3 1090.6C267.0 1090.3 269.7 1090.0 272.3 1089.6C275.0 1089.3 277.7 1089.0 280.3 1088.6C283.0 1088.3 285.7 1088.0 288.3 1087.6C291.0 1087.3 293.7 1087.0 296.3 1086.6C299.0 1086.3 301.7 1086.0 304.3 1085.6C307.0 1085.3 309.7 1085.0 312.3 1084.6C315.0 1084.3 317.7 1084.0 320.3 1083.6C323.0 1083.3 325.7 1082.9 328.3 1082.6C331.0 1082.2 333.7 1081.8 336.3 1081.4C339.0 1081.1 341.7 1080.7 344.3 1080.3C347.0 1079.9 349.7 1079.6 352.3 1079.2C355.0 1078.8 357.7 1078.4 360.3 1078.1C363.0 1077.7 365.7 1077.3 368.3 1076.9C371.0 1076.5 373.7 1076.1 376.3 1075.7C379.0 1075.3 381.7 1075.0 384.3 1074.5C387.0 1074.1 389.7 1073.8 392.3 1073.3C395.0 1072.8 397.7 1072.3 400.3 1071.7C403.0 1071.0 405.7 1070.3 408.3 1069.6C411.0 1068.9 413.7 1068.1 416.3 1067.4C419.0 1066.7 421.7 1066.0 424.3 1065.3C427.0 1064.6 429.7 1063.9 432.3 1063.2C435.0 1062.5 437.7 1061.7 440.3 1061.0C443.0 1060.3 445.7 1059.6 448.3 1058.9C451.0 1058.3 453.7 1057.7 456.3 1057.1C459.0 1056.6 461.7 1056.2 464.3 1055.8C467.0 1055.3 469.7 1054.9 472.3 1054.4C475.0 1054.0 477.7 1053.5 480.3 1053.2C483.0 1052.9 485.7 1052.7 488.3 1052.5C491.0 1052.3 493.7 1052.2 496.3 1052.0C499.0 1051.8 501.7 1051.6 504.3 1051.5C507.0 1051.4 509.7 1051.4 512.3 1051.6C515.0 1051.7 517.7 1052.0 520.3 1052.2C523.0 1052.4 525.7 1052.6 528.3 1052.8C531.0 1053.0 533.7 1053.1 536.3 1053.3C539.0 1053.5 541.7 1053.7 544.3 1053.9C547.0 1054.0 549.7 1054.2 552.3 1054.4C555.0 1054.5 557.7 1054.5 560.3 1054.6C563.0 1054.7 565.7 1054.7 568.3 1054.7C571.0 1054.8 573.7 1054.9 576.3 1054.8C579.0 1054.7 581.7 1054.6 584.3 1054.3C587.0 1054.0 589.7 1053.4 592.3 1052.8C595.0 1052.3 597.7 1051.8 600.3 1051.1C603.0 1050.3 605.7 1049.4 608.3 1048.5C611.0 1047.5 613.7 1046.7 616.3 1045.6C619.0 1044.4 621.7 1043.1 624.3 1041.8C627.0 1040.4 629.7 1039.0 632.3 1037.4C635.0 1035.8 637.7 1034.1 640.3 1032.1C643.0 1030.2 645.7 1028.0 648.3 1025.8C651.0 1023.7 653.7 1021.5 656.3 1019.2C659.0 1016.9 661.7 1014.3 664.3 1011.8C667.0 1009.3 669.7 1006.7 672.3 1004.1C675.0 1001.5 677.9 998.6 680.3 996.1C682.8 993.6 686.0 990.2 687.2 989.1" fill="none" stroke="#000" stroke-width="4.4" stroke-linejoin="round"/>
<rect x="66.90" y="796.80" width="649.30" height="637.60" fill="none" stroke="#000" stroke-width="2.2" stroke-linejoin="round"/>
<line x1="215.5" y1="1434.4" x2="215.5" y2="1440.9" stroke="#000" stroke-width="1.3"/>
<text x="213.5" y="1460.1" font-size="19.6" text-anchor="middle">0.25</text>
<line x1="387.6" y1="1434.4" x2="387.6" y2="1440.9" stroke="#000" stroke-width="1.3"/>
<text x="385.6" y="1460.1" font-size="19.6" text-anchor="middle">0.50</text>
<line x1="561.0" y1="1434.4" x2="561.0" y2="1440.9" stroke="#000" stroke-width="1.3"/>
<text x="559.0" y="1460.1" font-size="19.6" text-anchor="middle">0.75</text>
<line x1="60.4" y1="908.9" x2="66.9" y2="908.9" stroke="#000" stroke-width="1.3"/>
<text x="53.9" y="915.5" font-size="20" text-anchor="end">4</text>
<line x1="60.4" y1="1077.5" x2="66.9" y2="1077.5" stroke="#000" stroke-width="1.3"/>
<text x="53.9" y="1084.1" font-size="20" text-anchor="end">0</text>
<line x1="60.4" y1="1245.9" x2="66.9" y2="1245.9" stroke="#000" stroke-width="1.3"/>
<text x="53.9" y="1252.5" font-size="20" text-anchor="end">−4</text>
<line x1="60.4" y1="1414.0" x2="66.9" y2="1414.0" stroke="#000" stroke-width="1.3"/>
<text x="53.9" y="1420.6" font-size="20" text-anchor="end">−8</text>
<text x="391.6" y="1487.4" font-size="24.3" text-anchor="middle">SDI in 2021</text>
<text transform="translate(23.5 1303.5) rotate(-90)" font-size="24.4" textLength="301.7" lengthAdjust="spacingAndGlyphs">EAPC of DALYs (1990−2021)</text>
<text x="95.9" y="897.8" font-size="24" word-spacing="0.7">r = 0.329</text>
<text x="95.9" y="934.8" font-size="24">p &lt; 0.001</text>
<text x="754.1" y="1061.0" font-size="24">Number in 2021</text>
<circle cx="773.0" cy="1095.0" r="9.9" fill="#20b2aa"/>
<text x="805.0" y="1102.2" font-size="20">300 000</text>
<circle cx="773.0" cy="1133.4" r="12.5" fill="#20b2aa"/>
<text x="805.0" y="1140.6" font-size="20">600 000</text>
<circle cx="773.0" cy="1171.8" r="14.5" fill="#20b2aa"/>
<text x="805.0" y="1179.0" font-size="20">900 000</text>
<g fill="#20b2aa">
<circle cx="1422.5" cy="1068.9" r="15.4"/>
<circle cx="1624.6" cy="1045.7" r="12.1"/>
<circle cx="1621.3" cy="1031.4" r="10.6"/>
<circle cx="1522.5" cy="1083.6" r="8.8"/>
<circle cx="1616.2" cy="941.7" r="8.6"/>
<circle cx="1613.6" cy="1022.6" r="8.4"/>
<circle cx="1476.9" cy="1025.4" r="8.4"/>
<circle cx="1555.2" cy="989.9" r="7.7"/>
<circle cx="1646.7" cy="1017.1" r="7.3"/>
<circle cx="1367.4" cy="1109.6" r="7.1"/>
<circle cx="1579.9" cy="824.8" r="6.8"/>
<circle cx="1481.3" cy="1040.2" r="6.6"/>
<circle cx="1374.4" cy="1083.2" r="6.6"/>
<circle cx="1556.7" cy="1008.7" r="6.2"/>
<circle cx="1601.5" cy="1021.5" r="6.2"/>
<circle cx="1538.6" cy="1074.4" r="6.2"/>
<circle cx="1523.2" cy="1042.8" r="6.0"/>
<circle cx="1635.2" cy="1067.3" r="6.0"/>
<circle cx="1625.7" cy="1011.1" r="5.7"/>
<circle cx="1581.8" cy="1240.1" r="5.7"/>
<circle cx="1481.3" cy="964.4" r="5.5"/>
<circle cx="1485.3" cy="1023.7" r="5.5"/>
<circle cx="1325.6" cy="1073.7" r="5.3"/>
<circle cx="1636.3" cy="932.0" r="5.3"/>
<circle cx="1606.3" cy="977.4" r="5.3"/>
<circle cx="1477.4" cy="981.1" r="5.3"/>
<circle cx="1494.5" cy="1107.4" r="5.3"/>
<circle cx="1537.8" cy="952.2" r="5.1"/>
<circle cx="1554.5" cy="1168.5" r="5.1"/>
<circle cx="1291.4" cy="1078.8" r="4.8"/>
<circle cx="1570.2" cy="905.3" r="4.8"/>
<circle cx="1437.2" cy="1022.6" r="4.8"/>
<circle cx="1666.9" cy="1019.9" r="4.8"/>
<circle cx="1440.1" cy="1067.8" r="4.8"/>
<circle cx="1444.3" cy="1143.8" r="4.8"/>
<circle cx="1606.3" cy="1031.5" r="4.7"/>
<circle cx="1627.3" cy="960.0" r="4.6"/>
<circle cx="1616.5" cy="984.0" r="4.6"/>
<circle cx="1641.6" cy="999.0" r="4.6"/>
<circle cx="1495.7" cy="1127.5" r="4.6"/>
<circle cx="1482.2" cy="1252.5" r="4.6"/>
<circle cx="1549.2" cy="1276.7" r="4.6"/>
<circle cx="1415.3" cy="1084.6" r="4.6"/>
<circle cx="1315.2" cy="1082.7" r="4.4"/>
<circle cx="1335.0" cy="1098.6" r="4.4"/>
<circle cx="1318.9" cy="1110.1" r="4.4"/>
<circle cx="1309.7" cy="1114.5" r="4.4"/>
<circle cx="1595.5" cy="978.5" r="4.4"/>
<circle cx="1626.4" cy="979.6" r="4.4"/>
<circle cx="1612.0" cy="991.7" r="4.4"/>
<circle cx="1577.2" cy="995.0" r="4.4"/>
<circle cx="1609.6" cy="1001.0" r="4.4"/>
<circle cx="1520.8" cy="1004.5" r="4.4"/>
<circle cx="1635.6" cy="1009.3" r="4.4"/>
<circle cx="1507.8" cy="1029.8" r="4.4"/>
<circle cx="1379.9" cy="1041.3" r="4.4"/>
<circle cx="1569.5" cy="1041.3" r="4.4"/>
<circle cx="1398.7" cy="1057.8" r="4.4"/>
<circle cx="1583.8" cy="1056.7" r="4.4"/>
<circle cx="1387.6" cy="1065.6" r="4.4"/>
<circle cx="1458.2" cy="1072.2" r="4.4"/>
<circle cx="1478.0" cy="1073.3" r="4.4"/>
<circle cx="1525.0" cy="1096.4" r="4.4"/>
<circle cx="1508.4" cy="1099.7" r="4.4"/>
<circle cx="1526.5" cy="1106.3" r="4.4"/>
<circle cx="1424.7" cy="1111.2" r="4.4"/>
<circle cx="1399.8" cy="1140.3" r="4.4"/>
<circle cx="1335.9" cy="1062.7" r="4.2"/>
<circle cx="1253.2" cy="1077.2" r="4.2"/>
<circle cx="1353.5" cy="1071.5" r="4.2"/>
<circle cx="1353.5" cy="1082.7" r="4.2"/>
<circle cx="1303.5" cy="1089.1" r="4.2"/>
<circle cx="1305.7" cy="1104.1" r="4.2"/>
<circle cx="1259.9" cy="1109.6" r="4.2"/>
<circle cx="1145.2" cy="1119.3" r="4.2"/>
<circle cx="1271.5" cy="1117.1" r="4.2"/>
<circle cx="1276.0" cy="1117.6" r="4.2"/>
<circle cx="1320.7" cy="1128.8" r="4.2"/>
<circle cx="1357.3" cy="1131.9" r="4.2"/>
<circle cx="1414.1" cy="868.3" r="4.2"/>
<circle cx="1520.3" cy="959.5" r="4.2"/>
<circle cx="1513.5" cy="973.8" r="4.2"/>
<circle cx="1582.1" cy="1016.0" r="4.2"/>
<circle cx="1593.3" cy="1031.8" r="4.2"/>
<circle cx="1614.2" cy="1068.2" r="4.2"/>
<circle cx="1583.4" cy="1079.9" r="4.2"/>
<circle cx="1570.6" cy="1110.7" r="4.2"/>
<circle cx="1523.6" cy="1141.8" r="4.2"/>
<circle cx="1600.1" cy="1145.6" r="4.2"/>
<circle cx="1504.2" cy="1149.3" r="4.2"/>
<circle cx="1565.5" cy="1329.4" r="4.2"/>
<circle cx="1337.2" cy="894.9" r="4.0"/>
<circle cx="1293.6" cy="1083.2" r="4.0"/>
<circle cx="1353.1" cy="1098.6" r="4.0"/>
<circle cx="1219.7" cy="1108.5" r="4.0"/>
<circle cx="1082.6" cy="1114.0" r="4.0"/>
<circle cx="1339.9" cy="1111.2" r="4.0"/>
<circle cx="1227.5" cy="1117.6" r="4.0"/>
<circle cx="1285.0" cy="1128.8" r="4.0"/>
<circle cx="1370.5" cy="1137.6" r="4.0"/>
<circle cx="1525.2" cy="836.1" r="4.0"/>
<circle cx="1480.2" cy="877.5" r="4.0"/>
<circle cx="1495.7" cy="887.4" r="4.0"/>
<circle cx="1400.0" cy="904.0" r="4.0"/>
<circle cx="1612.5" cy="973.4" r="4.0"/>
<circle cx="1446.3" cy="1004.0" r="4.0"/>
<circle cx="1486.4" cy="1008.9" r="4.0"/>
<circle cx="1464.1" cy="1036.9" r="4.0"/>
<circle cx="1452.7" cy="1045.7" r="4.0"/>
<circle cx="1604.8" cy="1042.8" r="4.0"/>
<circle cx="1544.1" cy="1058.9" r="4.0"/>
<circle cx="1574.6" cy="1055.6" r="4.0"/>
<circle cx="1394.2" cy="1075.5" r="4.0"/>
<circle cx="1607.6" cy="1075.9" r="4.0"/>
<circle cx="1554.7" cy="1078.1" r="4.0"/>
<circle cx="1389.4" cy="1093.1" r="4.0"/>
<circle cx="1474.0" cy="1092.0" r="4.0"/>
<circle cx="1509.3" cy="1090.2" r="4.0"/>
<circle cx="1374.4" cy="1103.0" r="4.0"/>
<circle cx="1451.6" cy="1105.9" r="4.0"/>
<circle cx="1607.6" cy="1116.5" r="4.0"/>
<circle cx="1468.5" cy="1129.7" r="4.0"/>
<circle cx="1512.6" cy="1126.8" r="4.0"/>
<circle cx="1474.3" cy="1153.1" r="4.0"/>
<circle cx="1451.6" cy="1160.1" r="4.0"/>
<circle cx="1394.2" cy="1168.5" r="4.0"/>
<circle cx="1495.7" cy="1203.5" r="4.0"/>
<circle cx="1442.3" cy="1271.0" r="4.0"/>
<circle cx="1614.7" cy="1360.1" r="4.0"/>
<circle cx="1606.5" cy="1367.3" r="4.0"/>
<circle cx="1596.8" cy="1379.7" r="4.0"/>
<circle cx="1529.8" cy="1406.3" r="4.0"/>
<circle cx="1260.5" cy="908.2" r="3.7"/>
<circle cx="1333.7" cy="1082.7" r="3.7"/>
<circle cx="1363.7" cy="1097.1" r="3.7"/>
<circle cx="1224.6" cy="1121.5" r="3.7"/>
<circle cx="1271.1" cy="1124.8" r="3.7"/>
<circle cx="1327.3" cy="1133.2" r="3.7"/>
<circle cx="1354.9" cy="1120.9" r="3.7"/>
<circle cx="1496.3" cy="973.2" r="3.7"/>
<circle cx="1633.4" cy="976.5" r="3.7"/>
<circle cx="1539.3" cy="990.2" r="3.7"/>
<circle cx="1530.3" cy="1034.7" r="3.7"/>
<circle cx="1473.6" cy="1035.4" r="3.7"/>
<circle cx="1387.6" cy="1045.7" r="3.7"/>
<circle cx="1455.5" cy="1052.3" r="3.7"/>
<circle cx="1462.6" cy="1055.6" r="3.7"/>
<circle cx="1590.4" cy="1053.9" r="3.7"/>
<circle cx="1650.0" cy="1076.1" r="3.7"/>
<circle cx="1490.8" cy="1082.7" r="3.7"/>
<circle cx="1457.7" cy="1087.6" r="3.7"/>
<circle cx="1461.5" cy="1090.9" r="3.7"/>
<circle cx="1572.8" cy="1092.0" r="3.7"/>
<circle cx="1623.5" cy="1092.7" r="3.7"/>
<circle cx="1422.2" cy="1099.3" r="3.7"/>
<circle cx="1636.1" cy="1104.1" r="3.7"/>
<circle cx="1427.8" cy="1116.0" r="3.7"/>
<circle cx="1479.1" cy="1115.1" r="3.7"/>
<circle cx="1463.2" cy="1119.8" r="3.7"/>
<circle cx="1523.9" cy="1129.2" r="3.7"/>
<circle cx="1556.5" cy="1141.4" r="3.7"/>
<circle cx="1578.8" cy="1153.3" r="3.7"/>
<circle cx="1323.3" cy="1083.8" r="3.7"/>
<circle cx="1241.1" cy="1098.6" r="3.7"/>
<circle cx="1213.6" cy="1103.0" r="3.7"/>
<circle cx="1194.4" cy="1107.4" r="3.7"/>
<circle cx="1363.5" cy="1118.9" r="3.7"/>
<circle cx="1464.8" cy="900.9" r="3.7"/>
<circle cx="1506.0" cy="972.3" r="3.7"/>
<circle cx="1486.4" cy="982.9" r="3.7"/>
<circle cx="1541.5" cy="982.2" r="3.7"/>
<circle cx="1545.3" cy="1011.1" r="3.7"/>
<circle cx="1554.7" cy="1023.0" r="3.7"/>
<circle cx="1557.4" cy="1027.0" r="3.7"/>
<circle cx="1489.7" cy="1036.5" r="3.7"/>
<circle cx="1539.7" cy="1046.4" r="3.7"/>
<circle cx="1586.0" cy="1063.3" r="3.7"/>
<circle cx="1483.5" cy="1076.6" r="3.7"/>
<circle cx="1456.6" cy="1096.4" r="3.7"/>
<circle cx="1544.6" cy="1094.9" r="3.7"/>
<circle cx="1499.0" cy="1098.6" r="3.7"/>
<circle cx="1435.0" cy="1100.2" r="3.7"/>
<circle cx="1429.5" cy="1105.2" r="3.7"/>
<circle cx="1582.7" cy="1109.6" r="3.7"/>
<circle cx="1590.4" cy="1109.6" r="3.7"/>
<circle cx="1594.4" cy="1109.6" r="3.7"/>
<circle cx="1561.8" cy="1132.3" r="3.7"/>
</g>
<path d="M1083.2 995.2C1085.2 996.8 1091.2 1001.7 1095.2 1004.8C1099.2 1007.9 1103.2 1010.9 1107.2 1013.8C1111.2 1016.7 1115.2 1019.4 1119.2 1022.0C1123.2 1024.7 1127.2 1027.2 1131.2 1029.6C1135.2 1032.0 1139.2 1034.3 1143.2 1036.5C1147.2 1038.7 1151.2 1040.8 1155.2 1042.8C1159.2 1044.8 1163.2 1046.6 1167.2 1048.4C1171.2 1050.2 1175.2 1051.8 1179.2 1053.4C1183.2 1054.9 1187.2 1056.4 1191.2 1057.7C1195.2 1059.1 1199.2 1060.3 1203.2 1061.5C1207.2 1062.6 1211.2 1063.6 1215.2 1064.6C1219.2 1065.5 1223.2 1066.4 1227.2 1067.1C1231.2 1067.9 1235.2 1068.5 1239.2 1069.1C1243.2 1069.6 1247.2 1070.0 1251.2 1070.4C1255.2 1070.7 1259.2 1071.0 1263.2 1071.2C1267.2 1071.4 1271.2 1071.5 1275.2 1071.6C1279.2 1071.6 1283.2 1071.6 1287.2 1071.5C1291.2 1071.4 1295.2 1071.4 1299.2 1071.2C1303.2 1071.0 1307.2 1070.6 1311.2 1070.3C1315.2 1069.9 1319.2 1069.6 1323.2 1069.2C1327.2 1068.8 1331.2 1068.3 1335.2 1067.8C1339.2 1067.3 1343.2 1066.8 1347.2 1066.2C1351.2 1065.6 1355.2 1065.0 1359.2 1064.4C1363.2 1063.7 1367.2 1063.0 1371.2 1062.3C1375.2 1061.6 1379.2 1060.9 1383.2 1060.1C1387.2 1059.3 1391.2 1058.5 1395.2 1057.7C1399.2 1056.9 1403.2 1056.1 1407.2 1055.2C1411.2 1054.3 1415.2 1053.3 1419.2 1052.4C1423.2 1051.5 1427.2 1050.6 1431.2 1049.8C1435.2 1048.9 1439.2 1048.2 1443.2 1047.5C1447.2 1046.8 1451.2 1046.1 1455.2 1045.6C1459.2 1045.0 1463.2 1044.5 1467.2 1044.1C1471.2 1043.8 1475.2 1043.5 1479.2 1043.5C1483.2 1043.4 1487.2 1043.7 1491.2 1043.9C1495.2 1044.1 1499.2 1044.5 1503.2 1044.9C1507.2 1045.3 1511.2 1045.8 1515.2 1046.2C1519.2 1046.6 1523.2 1047.1 1527.2 1047.4C1531.2 1047.7 1535.2 1047.9 1539.2 1048.0C1543.2 1048.2 1547.2 1048.4 1551.2 1048.4C1555.2 1048.4 1559.2 1048.3 1563.2 1047.9C1567.2 1047.5 1571.2 1047.0 1575.2 1046.2C1579.2 1045.4 1583.2 1044.4 1587.2 1043.1C1591.2 1041.7 1595.2 1040.0 1599.2 1037.9C1603.2 1035.8 1607.2 1033.4 1611.2 1030.3C1615.2 1027.3 1619.2 1023.8 1623.2 1019.4C1627.2 1015.0 1631.2 1009.7 1635.2 1003.9C1639.2 998.1 1643.2 991.5 1647.2 984.7C1651.2 977.9 1656.0 969.1 1659.2 963.2C1662.4 957.4 1665.1 951.9 1666.3 949.6L1666.3 1067.1C1665.1 1067.1 1662.4 1067.1 1659.2 1067.1C1656.0 1067.2 1651.2 1067.2 1647.2 1067.3C1643.2 1067.5 1639.2 1067.6 1635.2 1068.1C1631.2 1068.5 1627.2 1069.1 1623.2 1069.9C1619.2 1070.7 1615.2 1071.8 1611.2 1072.9C1607.2 1074.1 1603.2 1075.5 1599.2 1076.8C1595.2 1078.2 1591.2 1079.7 1587.2 1081.0C1583.2 1082.3 1579.2 1083.5 1575.2 1084.6C1571.2 1085.6 1567.2 1086.6 1563.2 1087.3C1559.2 1087.9 1555.2 1088.1 1551.2 1088.2C1547.2 1088.4 1543.2 1088.2 1539.2 1088.0C1535.2 1087.8 1531.2 1087.4 1527.2 1087.1C1523.2 1086.7 1519.2 1086.4 1515.2 1086.0C1511.2 1085.7 1507.2 1085.3 1503.2 1085.0C1499.2 1084.7 1495.2 1084.3 1491.2 1084.2C1487.2 1084.1 1483.2 1084.3 1479.2 1084.5C1475.2 1084.8 1471.2 1085.1 1467.2 1085.6C1463.2 1086.1 1459.2 1086.7 1455.2 1087.5C1451.2 1088.2 1447.2 1089.3 1443.2 1090.2C1439.2 1091.1 1435.2 1092.0 1431.2 1092.9C1427.2 1093.8 1423.2 1094.6 1419.2 1095.5C1415.2 1096.4 1411.2 1097.2 1407.2 1098.1C1403.2 1099.0 1399.2 1100.0 1395.2 1101.0C1391.2 1102.0 1387.2 1103.1 1383.2 1104.0C1379.2 1105.0 1375.2 1105.9 1371.2 1106.8C1367.2 1107.7 1363.2 1108.5 1359.2 1109.3C1355.2 1110.2 1351.2 1111.0 1347.2 1111.8C1343.2 1112.6 1339.2 1113.3 1335.2 1114.1C1331.2 1114.8 1327.2 1115.6 1323.2 1116.3C1319.2 1117.0 1315.2 1117.6 1311.2 1118.3C1307.2 1119.0 1303.2 1119.6 1299.2 1120.4C1295.2 1121.1 1291.2 1121.9 1287.2 1122.7C1283.2 1123.6 1279.2 1124.4 1275.2 1125.3C1271.2 1126.3 1267.2 1127.2 1263.2 1128.3C1259.2 1129.3 1255.2 1130.3 1251.2 1131.5C1247.2 1132.6 1243.2 1133.9 1239.2 1135.2C1235.2 1136.5 1231.2 1137.9 1227.2 1139.3C1223.2 1140.8 1219.2 1142.4 1215.2 1144.1C1211.2 1145.7 1207.2 1147.5 1203.2 1149.3C1199.2 1151.2 1195.2 1153.1 1191.2 1155.1C1187.2 1157.2 1183.2 1159.3 1179.2 1161.5C1175.2 1163.7 1171.2 1166.0 1167.2 1168.4C1163.2 1170.9 1159.2 1173.4 1155.2 1176.0C1151.2 1178.6 1147.2 1181.3 1143.2 1184.1C1139.2 1186.9 1135.2 1189.7 1131.2 1192.7C1127.2 1195.8 1123.2 1198.9 1119.2 1202.1C1115.2 1205.3 1111.2 1208.6 1107.2 1212.0C1103.2 1215.4 1099.2 1218.9 1095.2 1222.6C1091.2 1226.2 1085.2 1231.9 1083.2 1233.8Z" fill="#999999" fill-opacity="0.4"/>
<path d="M1083.2 1114.5C1084.5 1114.4 1088.5 1114.1 1091.2 1113.9C1093.9 1113.8 1096.5 1113.6 1099.2 1113.4C1101.9 1113.2 1104.5 1113.0 1107.2 1112.9C1109.9 1112.7 1112.5 1112.5 1115.2 1112.3C1117.9 1112.1 1120.5 1111.9 1123.2 1111.8C1125.9 1111.6 1128.5 1111.4 1131.2 1111.2C1133.9 1111.0 1136.5 1110.8 1139.2 1110.6C1141.9 1110.5 1144.5 1110.3 1147.2 1110.1C1149.9 1109.9 1152.5 1109.7 1155.2 1109.5C1157.9 1109.3 1160.5 1109.1 1163.2 1109.0C1165.9 1108.8 1168.5 1108.6 1171.2 1108.4C1173.9 1108.2 1176.5 1108.0 1179.2 1107.8C1181.9 1107.7 1184.5 1107.5 1187.2 1107.3C1189.9 1107.1 1192.5 1106.9 1195.2 1106.7C1197.9 1106.5 1200.5 1106.3 1203.2 1106.0C1205.9 1105.8 1208.5 1105.5 1211.2 1105.3C1213.9 1105.0 1216.5 1104.8 1219.2 1104.5C1221.9 1104.2 1224.5 1104.0 1227.2 1103.7C1229.9 1103.5 1232.5 1103.2 1235.2 1102.9C1237.9 1102.6 1240.5 1102.2 1243.2 1101.8C1245.9 1101.5 1248.5 1101.1 1251.2 1100.7C1253.9 1100.3 1256.5 1100.0 1259.2 1099.6C1261.9 1099.2 1264.5 1098.8 1267.2 1098.5C1269.9 1098.1 1272.5 1097.7 1275.2 1097.3C1277.9 1096.9 1280.5 1096.6 1283.2 1096.2C1285.9 1095.8 1288.5 1095.4 1291.2 1095.0C1293.9 1094.6 1296.5 1094.2 1299.2 1093.8C1301.9 1093.5 1304.5 1093.1 1307.2 1092.7C1309.9 1092.3 1312.5 1091.9 1315.2 1091.6C1317.9 1091.2 1320.5 1090.8 1323.2 1090.4C1325.9 1090.1 1328.5 1089.7 1331.2 1089.3C1333.9 1088.9 1336.5 1088.6 1339.2 1088.2C1341.9 1087.8 1344.5 1087.4 1347.2 1087.1C1349.9 1086.7 1352.5 1086.3 1355.2 1085.9C1357.9 1085.5 1360.5 1085.1 1363.2 1084.7C1365.9 1084.3 1368.5 1083.9 1371.2 1083.5C1373.9 1083.0 1376.5 1082.6 1379.2 1082.1C1381.9 1081.6 1384.5 1081.0 1387.2 1080.4C1389.9 1079.9 1392.5 1079.3 1395.2 1078.7C1397.9 1078.1 1400.5 1077.6 1403.2 1077.0C1405.9 1076.3 1408.5 1075.7 1411.2 1075.0C1413.9 1074.4 1416.5 1073.7 1419.2 1073.0C1421.9 1072.3 1424.5 1071.6 1427.2 1071.0C1429.9 1070.4 1432.5 1069.7 1435.2 1069.2C1437.9 1068.7 1440.5 1068.4 1443.2 1067.9C1445.9 1067.5 1448.5 1067.1 1451.2 1066.7C1453.9 1066.3 1456.5 1065.9 1459.2 1065.6C1461.9 1065.2 1464.5 1065.0 1467.2 1064.7C1469.9 1064.5 1472.5 1064.3 1475.2 1064.1C1477.9 1063.9 1480.5 1063.6 1483.2 1063.5C1485.9 1063.4 1488.5 1063.3 1491.2 1063.4C1493.9 1063.4 1496.5 1063.7 1499.2 1063.9C1501.9 1064.1 1504.5 1064.4 1507.2 1064.6C1509.9 1064.8 1512.5 1065.0 1515.2 1065.2C1517.9 1065.4 1520.5 1065.6 1523.2 1065.8C1525.9 1066.1 1528.5 1066.3 1531.2 1066.5C1533.9 1066.7 1536.5 1066.8 1539.2 1067.0C1541.9 1067.2 1544.5 1067.3 1547.2 1067.4C1549.9 1067.6 1552.5 1067.8 1555.2 1067.8C1557.9 1067.9 1560.5 1068.0 1563.2 1067.8C1565.9 1067.5 1568.5 1066.9 1571.2 1066.4C1573.9 1065.9 1576.5 1065.4 1579.2 1064.6C1581.9 1063.9 1584.5 1062.9 1587.2 1062.0C1589.9 1061.0 1592.5 1060.1 1595.2 1058.9C1597.9 1057.8 1600.5 1056.5 1603.2 1055.2C1605.9 1053.8 1608.5 1052.3 1611.2 1050.8C1613.9 1049.3 1616.5 1047.7 1619.2 1046.0C1621.9 1044.3 1624.5 1042.4 1627.2 1040.5C1629.9 1038.7 1632.5 1036.8 1635.2 1034.8C1637.9 1032.8 1640.5 1030.7 1643.2 1028.6C1645.9 1026.5 1648.5 1024.3 1651.2 1022.2C1653.9 1020.0 1656.7 1017.6 1659.2 1015.4C1661.7 1013.3 1665.1 1010.2 1666.3 1009.2" fill="none" stroke="#000" stroke-width="4.4" stroke-linejoin="round"/>
<rect x="1054.30" y="796.80" width="640.00" height="638.60" fill="none" stroke="#000" stroke-width="2.2" stroke-linejoin="round"/>
<line x1="1201.2" y1="1435.4" x2="1201.2" y2="1441.9" stroke="#000" stroke-width="1.3"/>
<text x="1199.2" y="1460.6" font-size="19.6" text-anchor="middle">0.25</text>
<line x1="1371.5" y1="1435.4" x2="1371.5" y2="1441.9" stroke="#000" stroke-width="1.3"/>
<text x="1369.5" y="1460.6" font-size="19.6" text-anchor="middle">0.50</text>
<line x1="1541.6" y1="1435.4" x2="1541.6" y2="1441.9" stroke="#000" stroke-width="1.3"/>
<text x="1539.6" y="1460.6" font-size="19.6" text-anchor="middle">0.75</text>
<line x1="1047.8" y1="935.8" x2="1054.3" y2="935.8" stroke="#000" stroke-width="1.3"/>
<text x="1041.3" y="942.4" font-size="20" text-anchor="end">5</text>
<line x1="1047.8" y1="1092.2" x2="1054.3" y2="1092.2" stroke="#000" stroke-width="1.3"/>
<text x="1041.3" y="1098.8" font-size="20" text-anchor="end">0</text>
<line x1="1047.8" y1="1248.0" x2="1054.3" y2="1248.0" stroke="#000" stroke-width="1.3"/>
<text x="1041.3" y="1254.6" font-size="20" text-anchor="end">−5</text>
<line x1="1047.8" y1="1404.0" x2="1054.3" y2="1404.0" stroke="#000" stroke-width="1.3"/>
<text x="1041.3" y="1410.6" font-size="20" text-anchor="end">−10</text>
<text x="1374.3" y="1488.3" font-size="24.3" text-anchor="middle">SDI in 2021</text>
<text transform="translate(997.5 1277.8) rotate(-90)" font-size="24.4" textLength="298.1" lengthAdjust="spacingAndGlyphs">EAPC of Deaths (1990−2021)</text>
<text x="1083.7" y="897.1" font-size="24" word-spacing="0.7">r = 0.342</text>
<text x="1083.7" y="933.7" font-size="24">p &lt; 0.001</text>
<text x="1733.0" y="1041.6" font-size="24">Number in 2021</text>
<circle cx="1751.9" cy="1075.8" r="9.6" fill="#20b2aa"/>
<text x="1783.5" y="1083.0" font-size="20">10 000</text>
<circle cx="1751.9" cy="1114.2" r="11.8" fill="#20b2aa"/>
<text x="1783.5" y="1121.4" font-size="20">20 000</text>
<circle cx="1751.9" cy="1152.6" r="13.6" fill="#20b2aa"/>
<text x="1783.5" y="1159.8" font-size="20">30 000</text>
<circle cx="1751.9" cy="1191.3" r="14.8" fill="#20b2aa"/>
<text x="1783.5" y="1198.5" font-size="20">40 000</text>
</svg>
</body></html>
